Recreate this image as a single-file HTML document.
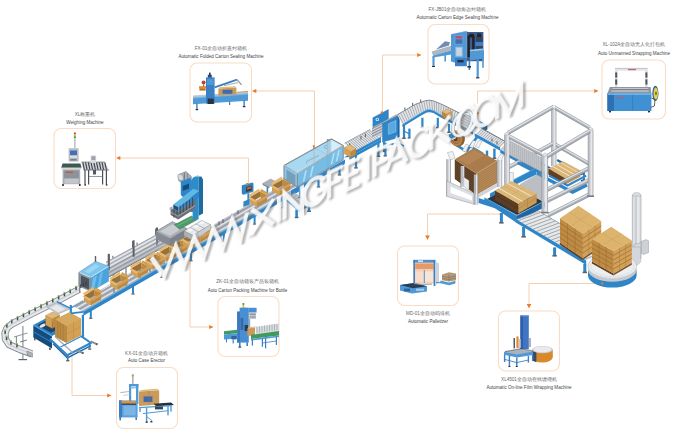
<!DOCTYPE html>
<html><head><meta charset="utf-8"><title>Packing line</title>
<style>
html,body{margin:0;padding:0;background:#fff;}
body{width:680px;height:433px;overflow:hidden;font-family:"Liberation Sans",sans-serif;}
svg{display:block}
svg text{font-family:"Liberation Sans",sans-serif;}
</style></head><body>
<svg width="680" height="433" viewBox="0 0 680 433">
<defs>
<filter id="soft" x="-5%" y="-5%" width="110%" height="110%"><feGaussianBlur stdDeviation="0.45"/></filter>
<filter id="wmsh" x="-10%" y="-10%" width="120%" height="120%"><feGaussianBlur stdDeviation="1.1"/></filter>
<linearGradient id="gl" x1="0" y1="0" x2="1" y2="1"><stop offset="0" stop-color="#9fd3ee"/><stop offset="1" stop-color="#5fb0dc"/></linearGradient>
</defs>
<rect width="680" height="433" fill="#ffffff"/>
<g id="connectors">
<polyline points="120.0,158.0 248.5,158.0 248.5,183.0" fill="none" stroke="#f6ceb0" stroke-width="1.0"/>
<polygon points="116.0,158.0 120.3,155.9 120.3,160.1" fill="#ea7a25"/>
<polyline points="256.0,91.0 314.5,91.0 314.5,146.0" fill="none" stroke="#f6ceb0" stroke-width="1.0"/>
<polygon points="252.0,91.0 256.3,88.9 256.3,93.1" fill="#ea7a25"/>
<polyline points="417.0,55.0 382.5,55.0 382.5,112.0" fill="none" stroke="#f6ceb0" stroke-width="1.0"/>
<polygon points="421.5,55.0 417.2,52.9 417.2,57.1" fill="#ea7a25"/>
<polyline points="594.0,91.0 477.5,91.0 477.5,113.0" fill="none" stroke="#f6ceb0" stroke-width="1.0"/>
<polygon points="598.5,91.0 594.2,88.9 594.2,93.1" fill="#ea7a25"/>
<polyline points="500.0,214.0 427.5,214.0 427.5,236.0" fill="none" stroke="#f6ceb0" stroke-width="1.0"/>
<polygon points="427.5,240.0 425.2,235.5 429.8,235.5" fill="#ea7a25"/>
<polyline points="601.5,283.5 529.0,283.5 529.0,304.0" fill="none" stroke="#f6ceb0" stroke-width="1.0"/>
<polygon points="529.0,308.5 526.7,304.0 531.3,304.0" fill="#ea7a25"/>
<polyline points="190.0,259.0 190.0,327.0 209.0,327.0" fill="none" stroke="#f6ceb0" stroke-width="1.0"/>
<polygon points="213.5,327.0 209.2,324.9 209.2,329.1" fill="#ea7a25"/>
<polyline points="72.0,345.0 72.0,395.5 107.0,395.5" fill="none" stroke="#f6ceb0" stroke-width="1.0"/>
<polygon points="111.5,395.5 107.2,393.4 107.2,397.6" fill="#ea7a25"/>
</g>
<g id="callouts">
<rect x="54.0" y="128.5" width="61.5" height="60.0" rx="7" ry="7" fill="#fff" stroke="#f9dcc6" stroke-width="1.1"/>
<text x="85.0" y="115.5" font-size="4.6" fill="#666" text-anchor="middle">XL称重机</text>
<text x="85.0" y="123.5" font-size="4.55" fill="#444" text-anchor="middle">Weighing Machine</text>
<rect x="190.0" y="63.0" width="61.5" height="59.0" rx="7" ry="7" fill="#fff" stroke="#f9dcc6" stroke-width="1.1"/>
<text x="221.0" y="50.3" font-size="4.6" fill="#666" text-anchor="middle">FX-01全自动折盖封箱机</text>
<text x="221.0" y="58.0" font-size="4.55" fill="#444" text-anchor="middle">Automatic Folded Carton Sealing Machine</text>
<rect x="428.0" y="24.5" width="61.0" height="59.5" rx="7" ry="7" fill="#fff" stroke="#f9dcc6" stroke-width="1.1"/>
<text x="457.5" y="10.5" font-size="4.6" fill="#666" text-anchor="middle">FX-JB01全自动角边封箱机</text>
<text x="457.5" y="18.8" font-size="4.55" fill="#444" text-anchor="middle">Automatic Carton Edge Sealing Machine</text>
<rect x="602.0" y="60.0" width="63.5" height="59.0" rx="7" ry="7" fill="#fff" stroke="#f9dcc6" stroke-width="1.1"/>
<text x="634.0" y="45.6" font-size="4.6" fill="#666" text-anchor="middle">XL-102A全自动无人化打包机</text>
<text x="634.0" y="55.3" font-size="4.55" fill="#444" text-anchor="middle">Auto Unmanned Strapping Machine</text>
<rect x="397.5" y="246.0" width="61.0" height="59.5" rx="7" ry="7" fill="#fff" stroke="#f9dcc6" stroke-width="1.1"/>
<text x="428.0" y="315.0" font-size="4.6" fill="#666" text-anchor="middle">MD-01全自动码垛机</text>
<text x="428.0" y="322.5" font-size="4.55" fill="#444" text-anchor="middle">Automatic Palletizer</text>
<rect x="498.5" y="311.0" width="61.0" height="60.0" rx="7" ry="7" fill="#fff" stroke="#f9dcc6" stroke-width="1.1"/>
<text x="529.0" y="380.6" font-size="4.6" fill="#666" text-anchor="middle">XL4501全自动在线缠绕机</text>
<text x="529.0" y="388.5" font-size="4.55" fill="#444" text-anchor="middle">Automatic On-line Film Wrapping Machine</text>
<rect x="218.0" y="296.5" width="61.0" height="60.0" rx="7" ry="7" fill="#fff" stroke="#f9dcc6" stroke-width="1.1"/>
<text x="247.5" y="283.2" font-size="4.6" fill="#666" text-anchor="middle">ZK-01全自动箱装产品装箱机</text>
<text x="247.5" y="292.2" font-size="4.55" fill="#444" text-anchor="middle">Auto Carton Packing Machine for Bottle</text>
<rect x="116.5" y="367.5" width="61.0" height="61.0" rx="7" ry="7" fill="#fff" stroke="#f9dcc6" stroke-width="1.1"/>
<text x="146.5" y="355.0" font-size="4.6" fill="#666" text-anchor="middle">KX-01全自动开箱机</text>
<text x="146.5" y="362.4" font-size="4.55" fill="#444" text-anchor="middle">Auto Case Erector</text>
</g>
<g id="thumbs" filter="url(#soft)">
<rect x="74.4" y="138.0" width="1.0" height="10.5" fill="#9a9fa6"/>
<rect x="73.9" y="132.6" width="2.0" height="1.8" fill="#d9362b"/>
<rect x="73.9" y="134.4" width="2.0" height="1.8" fill="#e8b52c"/>
<rect x="73.9" y="136.2" width="2.0" height="1.8" fill="#3da54a"/>
<rect x="68.6" y="148.2" width="10.0" height="13.4" fill="#b9bec6"/>
<rect x="70.0" y="150.5" width="7.0" height="4.5" fill="#3f6fb5"/>
<rect x="70.0" y="156.0" width="7.0" height="2.3" fill="#d8dbe0"/>
<rect x="70.3" y="158.8" width="6.3" height="1.8" fill="#7a828c"/>
<polygon points="62.5,163.6 80.4,163.6 81.6,167.8 61.2,167.8" fill="#3d5a4e"/>
<rect x="61.4" y="167.8" width="20.0" height="1.6" fill="#d5d8dc"/>
<rect x="62.6" y="169.4" width="17.6" height="14.8" fill="#a9adb4"/>
<rect x="64.0" y="170.5" width="14.8" height="7.5" fill="#8d929a"/>
<rect x="66.0" y="171.5" width="7.0" height="1.5" fill="#c45a3a"/>
<rect x="64.5" y="179.0" width="14.0" height="4.6" fill="#c3c6cb"/>
<rect x="62.2" y="184.0" width="1.6" height="2.0" fill="#2b2f36"/>
<rect x="79.0" y="184.0" width="1.6" height="2.0" fill="#2b2f36"/>
<polygon points="81.4,162.0 104.8,162.0 108.8,170.0 83.5,170.0" fill="#cfd2d6"/>
<polyline points="82.8,162.4 84.4,169.6" fill="none" stroke="#3a3f47" stroke-width="1.1"/>
<polyline points="85.5,162.4 87.1,169.6" fill="none" stroke="#3a3f47" stroke-width="1.1"/>
<polyline points="88.3,162.4 89.9,169.6" fill="none" stroke="#3a3f47" stroke-width="1.1"/>
<polyline points="91.0,162.4 92.6,169.6" fill="none" stroke="#3a3f47" stroke-width="1.1"/>
<polyline points="93.8,162.4 95.4,169.6" fill="none" stroke="#3a3f47" stroke-width="1.1"/>
<polyline points="96.5,162.4 98.1,169.6" fill="none" stroke="#3a3f47" stroke-width="1.1"/>
<polyline points="99.3,162.4 100.9,169.6" fill="none" stroke="#3a3f47" stroke-width="1.1"/>
<polyline points="102.0,162.4 103.6,169.6" fill="none" stroke="#3a3f47" stroke-width="1.1"/>
<polyline points="104.8,162.4 106.4,169.6" fill="none" stroke="#3a3f47" stroke-width="1.1"/>
<polyline points="81.4,162.0 104.8,162.0" fill="none" stroke="#555a62" stroke-width="0.6"/>
<polyline points="83.5,170.0 108.8,170.0" fill="none" stroke="#555a62" stroke-width="0.8"/>
<rect x="84.4" y="170.0" width="1.2" height="14.5" fill="#4a4f57"/>
<rect x="88.0" y="170.0" width="1.2" height="14.5" fill="#4a4f57"/>
<rect x="102.0" y="170.0" width="1.2" height="14.5" fill="#4a4f57"/>
<rect x="105.8" y="170.0" width="1.2" height="14.5" fill="#4a4f57"/>
<rect x="84.4" y="184.2" width="1.6" height="1.4" fill="#2b2f36"/>
<rect x="105.8" y="184.2" width="1.6" height="1.4" fill="#2b2f36"/>
<polyline points="88.6,176.5 102.6,176.5" fill="none" stroke="#6a6f77" stroke-width="0.7"/>
<rect x="90.6" y="155.4" width="5.6" height="7.6" fill="#d7dade"/>
<rect x="91.5" y="156.3" width="3.8" height="3.7" fill="#9aa0a8"/>
<rect x="93.0" y="170.0" width="3.0" height="4.5" fill="#555a62"/>
<polygon points="193.0,97.2 248.0,93.3 248.0,100.8 193.0,104.2" fill="#4f9ad6"/>
<polygon points="193.0,95.6 248.0,91.8 248.0,93.6 193.0,97.4" fill="#bfc6cf"/>
<polygon points="193.0,97.2 248.0,93.3 248.0,94.6 193.0,98.6" fill="#7db9e6"/>
<rect x="206.0" y="77.4" width="8.6" height="26.2" fill="#3b7fc4"/>
<rect x="207.0" y="79.0" width="6.6" height="6.0" fill="#4f9ad6"/>
<rect x="207.6" y="98.6" width="6.2" height="5.4" fill="#2a3340"/>
<rect x="207.8" y="74.8" width="4.0" height="2.8" fill="#2c4a78"/>
<rect x="209.0" y="72.6" width="1.6" height="2.4" fill="#2b2f36"/>
<polygon points="218.4,88.6 236.4,87.4 236.4,94.4 218.4,95.4" fill="#c99a5a"/>
<polygon points="218.4,88.6 236.4,87.4 235.0,86.2 219.6,87.2" fill="#e0b878"/>
<rect x="222.6" y="89.8" width="9.8" height="4.0" fill="#3f69b0"/>
<polyline points="214.6,87.4 237.0,79.6" fill="none" stroke="#3b7fc4" stroke-width="1.7"/>
<polyline points="237.0,79.6 241.6,84.8" fill="none" stroke="#8e959e" stroke-width="1.2"/>
<polyline points="224.0,85.6 238.0,82.6" fill="none" stroke="#9aa1aa" stroke-width="0.9"/>
<rect x="199.0" y="86.2" width="7.0" height="2.0" fill="#e28a2c"/>
<rect x="199.4" y="88.2" width="6.2" height="2.4" fill="#c96a1e"/>
<circle cx="203.6" cy="82.6" r="2" fill="#c8402c"/>
<rect x="203.0" y="84.4" width="1.2" height="2.0" fill="#6e747c"/>
<rect x="196.2" y="103.6" width="1.4" height="5.4" fill="#3b7fc4"/>
<rect x="195.6" y="109.0" width="2.6" height="1.2" fill="#2b2f36"/>
<rect x="243.4" y="100.6" width="1.4" height="5.4" fill="#3b7fc4"/>
<rect x="242.8" y="106.0" width="2.6" height="1.2" fill="#2b2f36"/>
<rect x="229.0" y="101.6" width="1.2" height="3.4" fill="#3b7fc4"/>
<polyline points="236.8,92.4 248.0,91.4" fill="none" stroke="#d58a3a" stroke-width="0.9"/>
<polygon points="431.6,51.4 451.0,45.8 451.0,50.4 433.0,55.4" fill="#aeb6c0"/>
<polygon points="433.0,55.4 451.0,50.4 451.0,54.4 433.2,57.4" fill="#4f9ad6"/>
<polygon points="436.0,49.6 449.0,45.6 450.0,42.2 445.0,41.2" fill="#6f8db8"/>
<rect x="432.4" y="56.0" width="2.2" height="10.0" fill="#4f9ad6"/>
<rect x="444.4" y="54.6" width="1.6" height="7.0" fill="#4f9ad6"/>
<rect x="432.0" y="66.0" width="3.0" height="1.0" fill="#2b2f36"/>
<polygon points="451.0,34.2 466.6,31.0 466.6,66.0 451.0,61.6" fill="#4f9ad6"/>
<polygon points="451.0,34.2 466.6,31.0 468.6,31.6 453.4,33.4" fill="#7db9e6"/>
<rect x="454.6" y="35.4" width="8.6" height="9.2" fill="#6fa5d8"/>
<rect x="455.4" y="36.2" width="7.0" height="2.2" fill="#c4495a"/>
<rect x="455.4" y="39.2" width="7.0" height="4.6" fill="#3f70b4"/>
<rect x="455.4" y="46.8" width="7.2" height="9.8" fill="#9cc0e2"/>
<rect x="456.4" y="48.0" width="5.2" height="7.6" fill="#c9d6e2"/>
<rect x="455.0" y="58.0" width="11.6" height="8.2" fill="#3b7fc4"/>
<rect x="457.4" y="60.0" width="6.2" height="2.4" fill="#24303f"/>
<rect x="466.6" y="32.0" width="16.8" height="29.2" fill="#3c5d8c"/>
<polygon points="467.6,36.0 470.0,33.8 473.6,33.8 474.6,36.0 474.6,57.0 472.2,57.0 472.2,37.6 469.8,37.6 469.8,57.0 467.6,57.0" fill="#1d2127"/>
<rect x="476.0" y="36.6" width="6.6" height="12.8" fill="#31425e"/>
<rect x="477.0" y="33.4" width="4.4" height="3.6" fill="#22262d"/>
<rect x="475.4" y="42.0" width="7.6" height="4.0" fill="#3b7fc4"/>
<polygon points="470.0,51.6 484.0,50.2 484.0,58.6 470.0,60.6" fill="#4f9ad6"/>
<polygon points="470.0,51.6 484.0,50.2 482.4,48.6 470.0,49.8" fill="#9ec7ea"/>
<rect x="476.6" y="59.6" width="2.2" height="17.8" fill="#4f9ad6"/>
<rect x="482.2" y="55.6" width="1.6" height="12.2" fill="#4f9ad6"/>
<rect x="468.6" y="60.0" width="1.6" height="10.0" fill="#3b7fc4"/>
<rect x="476.0" y="77.2" width="3.4" height="1.2" fill="#2b2f36"/>
<rect x="467.4" y="66.0" width="3.6" height="1.6" fill="#2b2f36"/>
<rect x="615.0" y="69.2" width="2.4" height="18.2" fill="#d9dce0"/>
<rect x="645.2" y="69.2" width="2.4" height="18.2" fill="#d9dce0"/>
<rect x="615.0" y="68.4" width="32.6" height="2.4" fill="#e4e6ea"/>
<rect x="615.2" y="72.4" width="2.0" height="5.2" fill="#50565e"/>
<rect x="615.2" y="79.4" width="2.0" height="5.2" fill="#50565e"/>
<rect x="645.4" y="72.4" width="2.0" height="5.2" fill="#50565e"/>
<rect x="645.4" y="79.4" width="2.0" height="5.2" fill="#50565e"/>
<rect x="628.0" y="69.0" width="8.0" height="1.2" fill="#c56a6a"/>
<polyline points="615.0,68.4 647.6,68.4" fill="none" stroke="#8a9098" stroke-width="0.5"/>
<polygon points="609.8,87.0 650.6,87.0 651.4,93.4 607.4,93.4" fill="#9096a0"/>
<polygon points="612.6,88.2 648.2,88.2 648.8,91.4 611.4,91.4" fill="#d4d7dc"/>
<polyline points="612.0,89.8 648.6,89.8" fill="none" stroke="#3b4048" stroke-width="0.8"/>
<rect x="607.4" y="93.2" width="44.0" height="17.8" fill="#4090d4"/>
<rect x="607.4" y="93.2" width="6.6" height="17.8" fill="#2f6fb2"/>
<rect x="607.4" y="93.2" width="44.0" height="1.8" fill="#6fb0e4"/>
<polyline points="632.6,95.0 632.6,111.0" fill="none" stroke="#2f6fb2" stroke-width="0.5"/>
<rect x="617.0" y="97.2" width="6.4" height="1.2" fill="#cf5a5a"/>
<rect x="609.0" y="111.0" width="2.0" height="1.4" fill="#2b2f36"/>
<rect x="648.0" y="111.0" width="2.0" height="1.4" fill="#2b2f36"/>
<ellipse cx="655.4" cy="93.4" rx="3.1" ry="7.6" fill="#2e68ac"/><ellipse cx="655.8" cy="93.4" rx="2.2" ry="6" fill="#e9d23a"/><ellipse cx="656" cy="93.4" rx="0.8" ry="1.8" fill="#54595f"/>
<polyline points="651.4,98.0 655.0,99.4 654.4,106.0 650.8,107.4" fill="none" stroke="#3a3f47" stroke-width="0.8"/>
<rect x="413.4" y="260.0" width="21.8" height="23.6" fill="#f3cdb4"/>
<rect x="415.2" y="263.6" width="18.4" height="5.4" fill="#e79a68"/>
<rect x="415.4" y="271.4" width="8.6" height="10.6" fill="#f6dccb"/>
<rect x="425.0" y="271.4" width="8.6" height="10.6" fill="#f8e4d6"/>
<rect x="413.4" y="259.8" width="21.8" height="2.8" fill="#4d8fd0"/>
<rect x="418.0" y="260.4" width="5.0" height="1.6" fill="#d8e4f0"/>
<rect x="413.4" y="260.0" width="1.6" height="24.6" fill="#3b7fc4"/>
<rect x="433.6" y="260.0" width="1.8" height="26.0" fill="#3b7fc4"/>
<rect x="423.8" y="270.0" width="1.0" height="13.0" fill="#4f9ad6"/>
<polygon points="435.4,261.4 439.0,263.4 439.0,283.0 435.4,285.0" fill="#cfd4da"/>
<polygon points="400.0,285.0 414.0,283.0 427.0,286.2 427.0,291.4 412.0,293.4 400.0,290.6" fill="#4f9ad6"/>
<polygon points="400.0,285.0 414.0,283.0 427.0,286.2 413.0,288.2" fill="#2c3c55"/>
<rect x="404.0" y="288.6" width="6.0" height="2.8" fill="#2f64a6"/>
<rect x="416.0" y="288.6" width="8.0" height="2.2" fill="#a9c9e8"/>
<polyline points="414.0,283.6 423.0,284.4 432.0,284.2" fill="none" stroke="#9a9fa6" stroke-width="1"/>
<polygon points="442.0,274.4 449.0,272.2 456.0,273.6 456.0,280.2 449.0,281.6 442.0,280.2" fill="#b39a78"/>
<polyline points="442.0,276.4 449.0,277.6 456.0,275.8" fill="none" stroke="#7d6a50" stroke-width="0.5"/>
<polyline points="442.0,278.4 449.0,279.6 456.0,278.0" fill="none" stroke="#7d6a50" stroke-width="0.5"/>
<polyline points="449.0,274.6 449.0,281.4" fill="none" stroke="#7d6a50" stroke-width="0.5"/>
<polygon points="440.4,280.6 449.0,282.6 455.4,280.8 455.4,283.4 449.0,285.2 440.4,283.2" fill="#4f9ad6"/>
<polyline points="436.0,282.6 441.0,282.6" fill="none" stroke="#3b7fc4" stroke-width="0.9"/>
<rect x="520.4" y="315.6" width="8.4" height="33.4" fill="#3f74c4"/>
<rect x="520.4" y="315.6" width="2.6" height="33.4" fill="#2f5fa8"/>
<rect x="520.4" y="315.2" width="8.4" height="1.2" fill="#6a9add"/>
<rect x="513.6" y="338.0" width="1.2" height="10.4" fill="#2b2f36"/>
<rect x="516.4" y="336.4" width="2.2" height="11.6" fill="#e28a2c"/>
<rect x="519.0" y="339.0" width="1.6" height="9.0" fill="#c8cdd3"/>
<rect x="529.2" y="338.0" width="1.6" height="9.0" fill="#9aa1aa"/>
<ellipse cx="542.4" cy="357" rx="10.4" ry="5.6" fill="#d88a2a"/>
<rect x="532.0" y="349.6" width="20.8" height="7.4" fill="#d88a2a"/>
<ellipse cx="542.4" cy="349.6" rx="10.4" ry="3.7" fill="#c9cdd2"/><ellipse cx="542.4" cy="349.4" rx="9" ry="2.9" fill="#e8eaed"/>
<polygon points="532.0,351.0 536.4,352.6 536.4,362.2 532.0,360.4" fill="#3b4a66"/>
<polygon points="504.0,352.0 521.0,349.0 533.0,351.4 533.0,355.0 517.0,357.6 504.0,354.8" fill="#4f9ad6"/>
<polygon points="504.0,352.0 521.0,349.0 533.0,351.4 517.0,354.4" fill="#aab2bc"/>
<polyline points="505.0,351.6 521.0,348.6 532.6,350.8" fill="none" stroke="#3e444c" stroke-width="0.6"/>
<rect x="503.9" y="354.6" width="1.4" height="7.4" fill="#3b7fc4"/>
<rect x="508.7" y="355.6" width="1.4" height="10.4" fill="#3b7fc4"/>
<rect x="516.1" y="357.6" width="1.4" height="8.4" fill="#3b7fc4"/>
<rect x="527.7" y="356.0" width="1.4" height="6.6" fill="#3b7fc4"/>
<rect x="531.9" y="355.0" width="1.4" height="5.6" fill="#3b7fc4"/>
<polyline points="504.6,359.4 516.8,362.6 528.4,360.0" fill="none" stroke="#3b7fc4" stroke-width="0.9"/>
<rect x="508.4" y="366.0" width="2.0" height="1.0" fill="#2b2f36"/>
<rect x="515.8" y="366.0" width="2.0" height="1.0" fill="#2b2f36"/>
<rect x="242.6" y="303.0" width="1.6" height="21.0" fill="#c9c83a"/>
<rect x="242.6" y="303.0" width="1.6" height="2.0" fill="#7a9a3a"/>
<rect x="237.2" y="311.6" width="11.6" height="31.0" fill="#4a8ed2"/>
<rect x="237.2" y="311.6" width="2.8" height="31.0" fill="#3b78bd"/>
<rect x="239.6" y="307.6" width="9.2" height="4.4" fill="#4a8ed2"/>
<rect x="248.8" y="307.8" width="7.8" height="4.8" fill="#4a8ed2"/>
<rect x="249.2" y="312.6" width="6.8" height="6.4" fill="#c3c9d0"/>
<rect x="249.6" y="313.6" width="6.0" height="1.4" fill="#8d949c"/>
<rect x="249.6" y="316.4" width="6.0" height="1.2" fill="#8d949c"/>
<rect x="248.8" y="319.0" width="1.4" height="9.0" fill="#9da4ac"/>
<rect x="240.6" y="318.0" width="2.6" height="12.0" fill="#3568a8"/>
<rect x="244.6" y="325.0" width="3.4" height="6.0" fill="#2e3a4c"/>
<polygon points="247.4,328.4 255.0,327.6 255.0,335.2 247.4,336.0" fill="#c99a5a"/>
<polygon points="247.4,328.4 249.4,327.0 256.6,326.4 255.0,327.6" fill="#e0b878"/>
<polygon points="224.0,331.2 237.2,329.8 237.2,333.2 224.0,334.6" fill="#3f9a5c"/>
<polygon points="224.0,334.6 237.2,333.2 237.2,338.6 224.0,339.6" fill="#4f9ad6"/>
<rect x="231.4" y="336.0" width="5.2" height="3.4" fill="#2f64a6"/>
<rect x="232.6" y="339.4" width="1.2" height="4.0" fill="#3b7fc4"/>
<rect x="226.0" y="339.0" width="1.0" height="3.4" fill="#3b7fc4"/>
<polygon points="255.8,327.0 279.0,323.6 279.0,331.4 255.8,334.6" fill="#d9dde1"/>
<polyline points="257.0,326.6 257.0,333.0" fill="none" stroke="#9ba2aa" stroke-width="0.7"/>
<polyline points="259.5,326.2 259.5,332.6" fill="none" stroke="#9ba2aa" stroke-width="0.7"/>
<polyline points="262.0,325.9 262.0,332.3" fill="none" stroke="#9ba2aa" stroke-width="0.7"/>
<polyline points="264.5,325.5 264.5,331.9" fill="none" stroke="#9ba2aa" stroke-width="0.7"/>
<polyline points="267.0,325.2 267.0,331.6" fill="none" stroke="#9ba2aa" stroke-width="0.7"/>
<polyline points="269.5,324.8 269.5,331.2" fill="none" stroke="#9ba2aa" stroke-width="0.7"/>
<polyline points="272.0,324.4 272.0,330.8" fill="none" stroke="#9ba2aa" stroke-width="0.7"/>
<polyline points="274.5,324.1 274.5,330.5" fill="none" stroke="#9ba2aa" stroke-width="0.7"/>
<polyline points="277.0,323.7 277.0,330.1" fill="none" stroke="#9ba2aa" stroke-width="0.7"/>
<polygon points="251.0,334.8 279.0,331.0 279.0,335.4 251.0,339.0" fill="#3f9a5c"/>
<polygon points="251.0,339.0 279.0,335.4 279.0,337.0 251.0,340.6" fill="#4f9ad6"/>
<rect x="251.8" y="340.0" width="1.2" height="5.6" fill="#3b7fc4"/>
<rect x="261.8" y="338.6" width="1.2" height="8.2" fill="#3b7fc4"/>
<rect x="265.0" y="338.0" width="1.2" height="10.4" fill="#3b7fc4"/>
<rect x="275.8" y="336.6" width="1.2" height="8.4" fill="#3b7fc4"/>
<polyline points="262.4,343.0 276.4,341.0" fill="none" stroke="#3b7fc4" stroke-width="0.8"/>
<rect x="239.0" y="342.4" width="1.6" height="4.6" fill="#3b7fc4"/>
<rect x="246.4" y="342.4" width="1.6" height="3.6" fill="#3b7fc4"/>
<rect x="238.4" y="346.6" width="2.8" height="1.0" fill="#2b2f36"/>
<rect x="132.0" y="374.8" width="1.6" height="10.2" fill="#aeb4bb"/>
<rect x="131.8" y="374.4" width="2.0" height="2.0" fill="#8fae5a"/>
<rect x="129.0" y="384.0" width="2.2" height="17.4" fill="#4f9ad6"/>
<rect x="136.0" y="384.0" width="2.4" height="20.0" fill="#4f9ad6"/>
<rect x="129.0" y="384.0" width="9.4" height="2.4" fill="#4f9ad6"/>
<rect x="130.6" y="387.2" width="5.8" height="1.2" fill="#7fb4e4"/>
<polyline points="120.4,392.6 130.0,391.4" fill="none" stroke="#9aa1aa" stroke-width="0.8"/>
<polyline points="123.4,395.4 130.0,394.6" fill="none" stroke="#b9bfc6" stroke-width="0.7"/>
<rect x="119.0" y="400.4" width="18.6" height="17.0" fill="#5a9fdc"/>
<rect x="119.0" y="400.4" width="3.0" height="17.0" fill="#3b7fc4"/>
<rect x="121.4" y="401.0" width="14.0" height="2.6" fill="#e8902e"/>
<rect x="123.6" y="405.6" width="12.0" height="9.8" fill="#7ab5e6"/>
<rect x="121.6" y="403.6" width="14.4" height="1.2" fill="#2d3a4e"/>
<rect x="119.4" y="417.2" width="1.6" height="3.2" fill="#3b7fc4"/>
<rect x="135.4" y="417.2" width="1.6" height="2.8" fill="#3b7fc4"/>
<polygon points="139.0,391.6 159.2,390.2 159.2,404.6 139.0,406.0" fill="#c99a5a"/>
<polygon points="139.0,391.6 159.2,390.2 157.0,388.8 141.0,390.0" fill="#e0b878"/>
<rect x="143.6" y="396.4" width="8.8" height="5.6" fill="#3f69b0"/>
<polyline points="149.0,391.0 149.0,405.4" fill="none" stroke="#a97a3e" stroke-width="0.5"/>
<polygon points="153.6,403.8 171.0,402.6 174.0,405.0 156.4,406.6" fill="#2a2f37"/>
<polyline points="139.0,407.6 171.6,405.6" fill="none" stroke="#4f9ad6" stroke-width="1.4"/>
<polyline points="143.0,413.6 168.6,410.6" fill="none" stroke="#4f9ad6" stroke-width="1"/>
<rect x="139.3" y="407.0" width="1.4" height="5.0" fill="#4f9ad6"/>
<rect x="145.9" y="407.4" width="1.4" height="14.2" fill="#4f9ad6"/>
<rect x="167.3" y="406.0" width="1.4" height="9.4" fill="#4f9ad6"/>
<rect x="170.3" y="405.6" width="1.4" height="6.0" fill="#4f9ad6"/>
<rect x="145.6" y="421.4" width="2.2" height="1.4" fill="#2b2f36"/>
<rect x="150.4" y="421.0" width="2.0" height="1.4" fill="#2b2f36"/>
<polyline points="146.6,416.4 152.0,420.6" fill="none" stroke="#4f9ad6" stroke-width="0.9"/>
<rect x="155.0" y="406.6" width="8.0" height="2.8" fill="#394456"/>
</g>
<g id="line" filter="url(#soft)">
<polyline points="22.9,326.0 22.9,359.5" fill="none" stroke="#868b93" stroke-width="1.1"/>
<polyline points="16.4,336.0 16.4,352.0" fill="none" stroke="#868b93" stroke-width="1.1"/>
<polyline points="14.0,337.0 27.5,333.0" fill="none" stroke="#868b93" stroke-width="0.9"/>
<polyline points="18.5,359.6 27.0,359.6" fill="none" stroke="#5d626a" stroke-width="1.2"/>
<polyline points="20.0,342.0 27.0,340.0" fill="none" stroke="#5d626a" stroke-width="0.8"/>
<polyline points="31.8,353.8 20.0,349.5 9.0,344.6 5.4,339.0 5.0,333.0 7.0,328.0 12.0,324.0 30.0,314.6 56.0,301.6 79.0,289.4" fill="none" stroke="#868b93" stroke-width="7.2" stroke-linejoin="round" stroke-linecap="butt"/>
<polyline points="31.8,353.8 20.0,349.5 9.0,344.6 5.4,339.0 5.0,333.0 7.0,328.0 12.0,324.0 30.0,314.6 56.0,301.6 79.0,289.4" fill="none" stroke="#e6e8eb" stroke-width="5.4" stroke-linejoin="round"/>
<polyline points="31.8,353.8 20.0,349.5 9.0,344.6 5.4,339.0 5.0,333.0 7.0,328.0 12.0,324.0 30.0,314.6 56.0,301.6 79.0,289.4" fill="none" stroke="#c9ccd1" stroke-width="1.2" stroke-linejoin="round"/>
<polygon points="27.0,351.0 32.5,353.2 32.5,357.2 27.0,355.0" fill="#acb0b7" stroke="#5d626a" stroke-width="0.4" stroke-linejoin="round"/>
<rect x="16.2" y="343.8" width="1.5" height="3.6" fill="#454b53"/>
<rect x="16.1" y="343.0" width="1.7" height="1.5" fill="#86c552"/>
<rect x="10.2" y="341.1" width="1.5" height="3.6" fill="#454b53"/>
<rect x="10.1" y="340.3" width="1.7" height="1.5" fill="#86c552"/>
<rect x="5.9" y="336.5" width="1.5" height="3.6" fill="#454b53"/>
<rect x="5.8" y="335.7" width="1.7" height="1.5" fill="#86c552"/>
<rect x="4.4" y="330.3" width="1.5" height="3.6" fill="#454b53"/>
<rect x="4.3" y="329.5" width="1.7" height="1.5" fill="#86c552"/>
<rect x="6.1" y="324.0" width="1.5" height="3.6" fill="#454b53"/>
<rect x="6.0" y="323.2" width="1.7" height="1.5" fill="#86c552"/>
<rect x="11.0" y="319.8" width="1.5" height="3.6" fill="#454b53"/>
<rect x="10.9" y="319.0" width="1.7" height="1.5" fill="#86c552"/>
<rect x="16.8" y="316.7" width="1.5" height="3.6" fill="#454b53"/>
<rect x="16.7" y="315.9" width="1.7" height="1.5" fill="#86c552"/>
<rect x="22.7" y="313.6" width="1.5" height="3.6" fill="#454b53"/>
<rect x="22.6" y="312.8" width="1.7" height="1.5" fill="#86c552"/>
<rect x="28.5" y="310.6" width="1.5" height="3.6" fill="#454b53"/>
<rect x="28.4" y="309.8" width="1.7" height="1.5" fill="#86c552"/>
<rect x="34.4" y="307.6" width="1.5" height="3.6" fill="#454b53"/>
<rect x="34.3" y="306.8" width="1.7" height="1.5" fill="#86c552"/>
<rect x="40.3" y="304.7" width="1.5" height="3.6" fill="#454b53"/>
<rect x="40.2" y="303.9" width="1.7" height="1.5" fill="#86c552"/>
<rect x="46.2" y="301.7" width="1.5" height="3.6" fill="#454b53"/>
<rect x="46.1" y="300.9" width="1.7" height="1.5" fill="#86c552"/>
<rect x="52.0" y="298.8" width="1.5" height="3.6" fill="#454b53"/>
<rect x="51.9" y="298.0" width="1.7" height="1.5" fill="#86c552"/>
<rect x="57.9" y="295.8" width="1.5" height="3.6" fill="#454b53"/>
<rect x="57.8" y="295.0" width="1.7" height="1.5" fill="#86c552"/>
<rect x="63.7" y="292.7" width="1.5" height="3.6" fill="#454b53"/>
<rect x="63.6" y="291.9" width="1.7" height="1.5" fill="#86c552"/>
<rect x="69.5" y="289.6" width="1.5" height="3.6" fill="#454b53"/>
<rect x="69.4" y="288.8" width="1.7" height="1.5" fill="#86c552"/>
<rect x="75.3" y="286.5" width="1.5" height="3.6" fill="#454b53"/>
<rect x="75.2" y="285.7" width="1.7" height="1.5" fill="#86c552"/>
<polygon points="33.3,325.0 46.0,318.2 66.0,329.0 52.0,336.0" fill="#2f86c8"/>
<polygon points="37.4,325.2 46.0,320.6 60.0,328.2 51.0,332.8" fill="#1f4468"/>
<polygon points="33.3,325.0 52.0,336.0 52.0,348.6 33.3,337.6" fill="#184c7e"/>
<polyline points="33.3,325.2 52.0,336.2" fill="none" stroke="#58aee6" stroke-width="0.9"/>
<polyline points="33.3,331.6 52.0,342.6" fill="none" stroke="#2f86c8" stroke-width="1.0"/>
<ellipse cx="42.6" cy="325.6" rx="3.2" ry="1.6" fill="#e4e7ea" transform="rotate(-25 42.6 325.6)"/>
<rect x="34.0" y="338.0" width="1.6" height="2.4" fill="#5d626a"/>
<rect x="49.0" y="347.6" width="1.8" height="2.4" fill="#5d626a"/>
<polygon points="46.6,307.1 56.9,302.4 69.5,309.2 58.4,313.9" fill="#c9ccd1" stroke="#868b93" stroke-width="0.4" stroke-linejoin="round"/>
<polygon points="50.0,307.6 57.0,304.4 65.5,309.0 58.4,312.2" fill="#e6e8eb"/>
<polyline points="56.9,301.6 70.5,308.4" fill="none" stroke="#2f86c8" stroke-width="1.6"/>
<polyline points="70.8,305.0 70.8,313.0" fill="none" stroke="#2f86c8" stroke-width="2.2"/>
<polyline points="70.8,308.0 83.0,301.4" fill="none" stroke="#2f86c8" stroke-width="1.4"/>
<polygon points="45.6,325.1 52.2,328.4 52.2,318.8 45.6,315.5" fill="#d3a157" stroke="#9c6f33" stroke-width="0.3" stroke-linejoin="round"/>
<polygon points="52.2,328.4 59.6,324.7 59.6,315.1 52.2,318.8" fill="#bd8a42" stroke="#9c6f33" stroke-width="0.3" stroke-linejoin="round"/>
<polygon points="45.6,315.5 52.2,318.8 59.6,315.1 53.0,311.8" fill="#e3ba74" stroke="#9c6f33" stroke-width="0.3" stroke-linejoin="round"/>
<polygon points="50.0,338.5 67.0,354.7 90.7,342.9 81.0,336.2" fill="#ffffff"/>
<polyline points="50.0,339.0 67.4,355.2 91.0,343.0 81.5,336.4" fill="none" stroke="#2f86c8" stroke-width="2.0" stroke-linejoin="round"/>
<polyline points="55.0,336.5 72.5,352.5" fill="none" stroke="#acb0b7" stroke-width="1.6"/>
<polyline points="60.5,347.0 84.0,335.0" fill="none" stroke="#2f86c8" stroke-width="1.3"/>
<polyline points="53.0,343.8 67.4,357.8 91.0,345.6" fill="none" stroke="#1f66a6" stroke-width="1.4"/>
<rect x="66.9" y="355.0" width="1.7" height="5.2" fill="#2f86c8"/>
<rect x="66.2" y="360.0" width="3.2" height="1.4" fill="#5d626a"/>
<rect x="88.8" y="343.4" width="1.6" height="5.2" fill="#2f86c8"/>
<rect x="88.2" y="348.4" width="3.0" height="1.4" fill="#5d626a"/>
<polyline points="76.6,350.3 83.3,353.2" fill="none" stroke="#868b93" stroke-width="1.8"/>
<polyline points="82.0,352.7 83.6,353.4" fill="none" stroke="#5d626a" stroke-width="2"/>
<polyline points="90.7,341.4 97.3,344.4" fill="none" stroke="#868b93" stroke-width="1.8"/>
<polyline points="96.0,343.8 97.6,344.5" fill="none" stroke="#5d626a" stroke-width="2"/>
<rect x="81.8" y="314.8" width="2.2" height="22.6" fill="#2f86c8"/>
<polygon points="55.2,336.4 66.4,342.8 66.4,326.0 55.2,319.6" fill="#bd8a42"/>
<polygon points="66.4,342.8 81.0,335.5 81.0,318.7 66.4,326.0" fill="#d3a157"/>
<polygon points="55.2,319.6 66.4,326.0 81.0,318.7 69.8,312.3" fill="#d3a157"/>
<polygon points="55.2,319.6 68.6,312.6 81.0,318.4 66.4,326.0" fill="#d6a961"/>
<polygon points="55.2,319.6 66.4,326.0 66.4,342.8 55.2,336.4" fill="#bd8a42"/>
<polygon points="66.4,326.0 81.0,318.4 81.0,335.4 66.4,342.8" fill="#d3a157"/>
<polyline points="57.8,321.1 57.8,337.9" fill="none" stroke="#9c6f33" stroke-width="0.5"/>
<polyline points="60.4,322.6 60.4,339.4" fill="none" stroke="#9c6f33" stroke-width="0.5"/>
<polyline points="63.2,324.2 63.2,341.0" fill="none" stroke="#9c6f33" stroke-width="0.5"/>
<polyline points="73.6,322.2 73.6,339.2" fill="none" stroke="#bd8a42" stroke-width="0.6"/>
<polyline points="66.4,334.0 81.0,326.6" fill="none" stroke="#bd8a42" stroke-width="0.5"/>
<polyline points="66.4,326.0 66.4,342.8" fill="none" stroke="#9c6f33" stroke-width="0.5"/>
<rect x="89.8" y="309.5" width="2.0" height="8.5" fill="#2f86c8"/>
<rect x="89.2" y="317.7" width="3.2" height="1.2" fill="#5d626a"/>
<rect x="132.0" y="285.2" width="2.0" height="8.5" fill="#2f86c8"/>
<rect x="131.4" y="293.4" width="3.2" height="1.2" fill="#5d626a"/>
<rect x="161.0" y="268.5" width="2.0" height="8.5" fill="#2f86c8"/>
<rect x="160.4" y="276.7" width="3.2" height="1.2" fill="#5d626a"/>
<rect x="190.0" y="251.9" width="2.0" height="8.5" fill="#2f86c8"/>
<rect x="189.4" y="260.1" width="3.2" height="1.2" fill="#5d626a"/>
<rect x="223.0" y="232.9" width="2.0" height="8.5" fill="#2f86c8"/>
<rect x="222.4" y="241.1" width="3.2" height="1.2" fill="#5d626a"/>
<rect x="253.6" y="215.3" width="2.0" height="8.5" fill="#2f86c8"/>
<rect x="253.0" y="223.5" width="3.2" height="1.2" fill="#5d626a"/>
<rect x="282.0" y="199.0" width="2.0" height="8.5" fill="#2f86c8"/>
<rect x="281.4" y="207.2" width="3.2" height="1.2" fill="#5d626a"/>
<polygon points="83.3,311.8 300.0,187.2 289.0,180.9 74.3,306.6" fill="#acb0b7"/>
<polyline points="81.1,310.6 297.8,186.0" fill="none" stroke="#e6e8eb" stroke-width="1.2"/>
<polyline points="78.9,309.3 295.6,184.7" fill="none" stroke="#868b93" stroke-width="0.6"/>
<polyline points="76.7,308.1 293.4,183.5" fill="none" stroke="#e6e8eb" stroke-width="1.4"/>
<polyline points="74.5,306.9 291.2,182.3" fill="none" stroke="#868b93" stroke-width="0.6"/>
<polyline points="72.9,306.0 289.6,181.4" fill="none" stroke="#c9ccd1" stroke-width="1.0"/>
<polygon points="83.3,315.7 300.0,191.1 300.0,187.0 83.3,311.6" fill="#2f86c8"/>
<polyline points="83.3,311.6 300.0,187.0" fill="none" stroke="#58aee6" stroke-width="0.6"/>
<polyline points="71.0,313.4 83.3,311.8" fill="none" stroke="#2f86c8" stroke-width="1.8"/>
<rect x="107.9" y="254.3" width="1.8" height="20.0" fill="#5d626a"/>
<rect x="112.2" y="255.8" width="1.4" height="20.5" fill="#868b93"/>
<rect x="132.1" y="241.1" width="1.8" height="20.0" fill="#5d626a"/>
<rect x="136.4" y="242.6" width="1.4" height="20.5" fill="#868b93"/>
<rect x="155.1" y="228.6" width="1.8" height="20.0" fill="#5d626a"/>
<rect x="159.4" y="230.1" width="1.4" height="20.5" fill="#868b93"/>
<polygon points="106.0,261.8 171.0,226.4 171.0,243.4 106.0,278.8" fill="#c9ccd1"/>
<polygon points="106.0,270.8 171.0,235.4 171.0,243.4 106.0,278.8" fill="#acb0b7"/>
<polyline points="106.0,262.4 171.0,227.0" fill="none" stroke="#868b93" stroke-width="0.7"/>
<polyline points="106.0,264.2 171.0,228.8" fill="none" stroke="#e6e8eb" stroke-width="1.3"/>
<polyline points="106.0,266.2 171.0,230.8" fill="none" stroke="#868b93" stroke-width="0.6"/>
<polyline points="106.0,268.0 171.0,232.6" fill="none" stroke="#e6e8eb" stroke-width="1.2"/>
<polyline points="106.0,270.0 171.0,234.6" fill="none" stroke="#5d626a" stroke-width="0.6"/>
<polyline points="106.0,272.2 171.0,236.8" fill="none" stroke="#e6e8eb" stroke-width="0.8"/>
<polyline points="106.0,274.2 171.0,238.8" fill="none" stroke="#868b93" stroke-width="0.6"/>
<polyline points="106.0,276.2 171.0,240.8" fill="none" stroke="#c9ccd1" stroke-width="0.8"/>
<polyline points="106.0,278.4 171.0,243.0" fill="none" stroke="#5d626a" stroke-width="0.7"/>
<rect x="113.3" y="274.0" width="1.4" height="19.0" fill="#868b93"/>
<rect x="125.3" y="267.4" width="1.4" height="18.7" fill="#868b93"/>
<rect x="139.3" y="259.8" width="1.4" height="18.2" fill="#868b93"/>
<rect x="149.3" y="254.3" width="1.4" height="17.9" fill="#868b93"/>
<rect x="163.3" y="246.7" width="1.4" height="17.5" fill="#868b93"/>
<rect x="107.8" y="253.8" width="2.0" height="16.5" fill="#5d626a"/>
<rect x="132.6" y="240.3" width="2.0" height="16.5" fill="#5d626a"/>
<rect x="156.0" y="227.5" width="2.0" height="16.5" fill="#5d626a"/>
<polygon points="156.4,238.6 168.6,231.6 168.6,224.6 156.4,231.2" fill="#acb0b7" stroke="#5d626a" stroke-width="0.4" stroke-linejoin="round"/>
<polygon points="158.0,237.0 167.0,231.8 167.0,227.0 158.0,232.0" fill="#e6e8eb"/>
<rect x="163.4" y="228.4" width="2" height="2.2" fill="#5aa84a"/>
<rect x="156.2" y="231.0" width="1.4" height="15.0" fill="#868b93"/>
<rect x="167.6" y="224.6" width="1.4" height="15.4" fill="#868b93"/>
<polygon points="79.0,272.2 90.5,277.4 90.5,291.6 79.0,286.6" fill="#8a9097"/>
<polygon points="81.0,275.4 89.0,279.0 89.0,289.4 81.0,285.8" fill="#4d535b"/>
<rect x="80.0" y="284.6" width="1.4" height="3.4" fill="#3c4149"/>
<rect x="82.6" y="283.3" width="1.4" height="3.4" fill="#3c4149"/>
<rect x="85.2" y="282.0" width="1.4" height="3.4" fill="#3c4149"/>
<polygon points="90.5,277.4 108.8,266.3 108.8,281.2 90.5,292.0" fill="#49a3dd"/>
<polygon points="93.0,277.6 97.0,275.2 94.0,289.6 90.8,291.4" fill="#7cc3ec" opacity="0.8"/>
<polygon points="100.0,273.4 103.0,271.6 100.4,286.0 97.6,287.6" fill="#7cc3ec" opacity="0.7"/>
<polygon points="79.0,272.2 95.5,261.3 108.8,266.3 90.5,277.4" fill="#7fc6ee"/>
<polygon points="84.0,271.4 95.0,264.2 100.0,266.0 89.0,273.4" fill="#a5d8f4" opacity="0.8"/>
<polyline points="79.0,272.2 90.5,277.4 108.8,266.3" fill="none" stroke="#d6eefa" stroke-width="0.7"/>
<polyline points="79.0,272.2 79.0,287.0" fill="none" stroke="#868b93" stroke-width="1.2"/>
<polyline points="90.5,277.4 90.5,292.0" fill="none" stroke="#868b93" stroke-width="1.0"/>
<polyline points="79.0,272.2 95.5,261.3 108.8,266.3" fill="none" stroke="#5a98c4" stroke-width="0.5"/>
<rect x="79.0" y="286.0" width="1.4" height="7.0" fill="#868b93"/>
<rect x="94.8" y="256.0" width="1.4" height="6.0" fill="#5d626a"/>
<polygon points="84.2,295.4 94.2,289.6 94.2,295.6 84.2,301.4" fill="#9c6f33"/>
<polygon points="94.2,289.6 101.0,293.4 101.0,299.4 94.2,295.6" fill="#bd8a42"/>
<polygon points="84.2,295.4 94.2,289.6 93.0,287.0 83.0,293.2" fill="#e3ba74"/>
<polygon points="94.2,289.6 101.0,293.4 102.4,291.2 95.6,287.2" fill="#d3a157"/>
<polygon points="84.2,301.4 91.0,305.2 91.0,299.2 84.2,295.4" fill="#d3a157"/>
<polygon points="91.0,305.2 101.0,299.4 101.0,293.4 91.0,299.2" fill="#bd8a42"/>
<polygon points="84.2,295.4 91.0,299.2 89.4,300.8 82.6,296.6" fill="#e3ba74"/>
<polygon points="91.0,299.2 101.0,293.4 102.2,295.2 92.2,301.2" fill="#d3a157"/>
<polygon points="110.7,280.1 120.7,274.4 120.7,280.4 110.7,286.1" fill="#9c6f33"/>
<polygon points="120.7,274.4 127.5,278.2 127.5,284.2 120.7,280.4" fill="#bd8a42"/>
<polygon points="110.7,280.1 120.7,274.4 119.5,271.8 109.5,277.9" fill="#e3ba74"/>
<polygon points="120.7,274.4 127.5,278.2 128.9,276.0 122.1,272.0" fill="#d3a157"/>
<polygon points="110.7,286.1 117.5,289.9 117.5,283.9 110.7,280.1" fill="#d3a157"/>
<polygon points="117.5,289.9 127.5,284.2 127.5,278.2 117.5,283.9" fill="#bd8a42"/>
<polygon points="110.7,280.1 117.5,283.9 115.9,285.5 109.1,281.3" fill="#e3ba74"/>
<polygon points="117.5,283.9 127.5,278.2 128.7,280.0 118.7,285.9" fill="#d3a157"/>
<polygon points="131.2,268.3 141.2,262.6 141.2,268.6 131.2,274.3" fill="#9c6f33"/>
<polygon points="141.2,262.6 148.0,266.4 148.0,272.4 141.2,268.6" fill="#bd8a42"/>
<polygon points="131.2,268.3 141.2,262.6 140.0,260.0 130.0,266.1" fill="#e3ba74"/>
<polygon points="141.2,262.6 148.0,266.4 149.4,264.2 142.6,260.2" fill="#d3a157"/>
<polygon points="131.2,274.3 138.0,278.1 138.0,272.1 131.2,268.3" fill="#d3a157"/>
<polygon points="138.0,278.1 148.0,272.4 148.0,266.4 138.0,272.1" fill="#bd8a42"/>
<polygon points="131.2,268.3 138.0,272.1 136.4,273.7 129.6,269.5" fill="#e3ba74"/>
<polygon points="138.0,272.1 148.0,266.4 149.2,268.2 139.2,274.1" fill="#d3a157"/>
<polygon points="145.9,259.9 155.9,254.1 155.9,260.1 145.9,265.9" fill="#9c6f33"/>
<polygon points="155.9,254.1 162.7,257.9 162.7,263.9 155.9,260.1" fill="#bd8a42"/>
<polygon points="145.9,259.9 155.9,254.1 154.7,251.5 144.7,257.7" fill="#e3ba74"/>
<polygon points="155.9,254.1 162.7,257.9 164.1,255.7 157.3,251.7" fill="#d3a157"/>
<polygon points="145.9,265.9 152.7,269.7 152.7,263.7 145.9,259.9" fill="#d3a157"/>
<polygon points="152.7,269.7 162.7,263.9 162.7,257.9 152.7,263.7" fill="#bd8a42"/>
<polygon points="145.9,259.9 152.7,263.7 151.1,265.3 144.3,261.1" fill="#e3ba74"/>
<polygon points="152.7,263.7 162.7,257.9 163.9,259.7 153.9,265.7" fill="#d3a157"/>
<polygon points="159.7,252.0 169.7,246.2 169.7,252.2 159.7,258.0" fill="#9c6f33"/>
<polygon points="169.7,246.2 176.5,250.0 176.5,256.0 169.7,252.2" fill="#bd8a42"/>
<polygon points="159.7,252.0 169.7,246.2 168.5,243.6 158.5,249.8" fill="#e3ba74"/>
<polygon points="169.7,246.2 176.5,250.0 177.9,247.8 171.1,243.8" fill="#d3a157"/>
<polygon points="159.7,258.0 166.5,261.8 166.5,255.8 159.7,252.0" fill="#d3a157"/>
<polygon points="166.5,261.8 176.5,256.0 176.5,250.0 166.5,255.8" fill="#bd8a42"/>
<polygon points="159.7,252.0 166.5,255.8 164.9,257.4 158.1,253.2" fill="#e3ba74"/>
<polygon points="166.5,255.8 176.5,250.0 177.7,251.8 167.7,257.8" fill="#d3a157"/>
<polygon points="170.7,245.6 180.7,239.9 180.7,245.9 170.7,251.6" fill="#9c6f33"/>
<polygon points="180.7,239.9 187.5,243.7 187.5,249.7 180.7,245.9" fill="#bd8a42"/>
<polygon points="170.7,245.6 180.7,239.9 179.5,237.3 169.5,243.4" fill="#e3ba74"/>
<polygon points="180.7,239.9 187.5,243.7 188.9,241.5 182.1,237.5" fill="#d3a157"/>
<polygon points="170.7,251.6 177.5,255.4 177.5,249.4 170.7,245.6" fill="#d3a157"/>
<polygon points="177.5,255.4 187.5,249.7 187.5,243.7 177.5,249.4" fill="#bd8a42"/>
<polygon points="170.7,245.6 177.5,249.4 175.9,251.0 169.1,246.8" fill="#e3ba74"/>
<polygon points="177.5,249.4 187.5,243.7 188.7,245.5 178.7,251.4" fill="#d3a157"/>
<polygon points="182.7,238.7 192.7,233.0 192.7,239.0 182.7,244.7" fill="#9c6f33"/>
<polygon points="192.7,233.0 199.5,236.8 199.5,242.8 192.7,239.0" fill="#bd8a42"/>
<polygon points="182.7,238.7 192.7,233.0 191.5,230.4 181.5,236.5" fill="#e3ba74"/>
<polygon points="192.7,233.0 199.5,236.8 200.9,234.6 194.1,230.6" fill="#d3a157"/>
<polygon points="182.7,244.7 189.5,248.5 189.5,242.5 182.7,238.7" fill="#d3a157"/>
<polygon points="189.5,248.5 199.5,242.8 199.5,236.8 189.5,242.5" fill="#bd8a42"/>
<polygon points="182.7,238.7 189.5,242.5 187.9,244.1 181.1,239.9" fill="#e3ba74"/>
<polygon points="189.5,242.5 199.5,236.8 200.7,238.6 190.7,244.5" fill="#d3a157"/>
<polygon points="194.2,232.1 204.2,226.4 204.2,232.4 194.2,238.1" fill="#9c6f33"/>
<polygon points="204.2,226.4 211.0,230.2 211.0,236.2 204.2,232.4" fill="#bd8a42"/>
<polygon points="194.2,232.1 204.2,226.4 203.0,223.8 193.0,229.9" fill="#e3ba74"/>
<polygon points="204.2,226.4 211.0,230.2 212.4,228.0 205.6,224.0" fill="#d3a157"/>
<polygon points="194.2,238.1 201.0,241.9 201.0,235.9 194.2,232.1" fill="#d3a157"/>
<polygon points="201.0,241.9 211.0,236.2 211.0,230.2 201.0,235.9" fill="#bd8a42"/>
<polygon points="194.2,232.1 201.0,235.9 199.4,237.5 192.6,233.3" fill="#e3ba74"/>
<polygon points="201.0,235.9 211.0,230.2 212.2,232.0 202.2,237.9" fill="#d3a157"/>
<polygon points="156.0,231.4 172.4,221.6 187.0,228.6 170.0,238.8" fill="#acb0b7" stroke="#5d626a" stroke-width="0.4" stroke-linejoin="round"/>
<polygon points="160.0,231.4 172.4,224.2 182.0,228.6 170.0,235.8" fill="#c9ccd1"/>
<polygon points="156.0,231.4 170.0,238.8 170.0,246.0 156.0,239.0" fill="#868b93"/>
<polygon points="170.0,238.8 187.0,228.6 187.0,236.0 170.0,246.0" fill="#7d828a"/>
<polygon points="174.4,224.8 191.4,216.0 197.3,219.7 179.6,229.3" fill="#4f9a6c" stroke="#2f6a48" stroke-width="0.4" stroke-linejoin="round"/>
<polyline points="177.0,226.0 193.0,217.6" fill="none" stroke="#8fd0a0" stroke-width="0.5"/>
<polygon points="184.0,231.0 201.6,220.4 210.6,224.6 193.0,235.4" fill="#e6e8eb" stroke="#868b93" stroke-width="0.5" stroke-linejoin="round"/>
<polygon points="184.0,231.0 193.0,235.4 193.0,240.4 184.0,236.0" fill="#acb0b7" stroke="#868b93" stroke-width="0.3" stroke-linejoin="round"/>
<polygon points="193.0,235.4 210.6,224.6 210.6,229.6 193.0,240.4" fill="#c9ccd1" stroke="#868b93" stroke-width="0.3" stroke-linejoin="round"/>
<polyline points="189.8,227.5 198.8,231.9" fill="none" stroke="#868b93" stroke-width="0.6"/>
<polyline points="195.6,224.0 204.6,228.4" fill="none" stroke="#868b93" stroke-width="0.6"/>
<polygon points="187.2,230.3 190.6,228.3 193.4,229.7 190.0,231.7" fill="#f6f7f8"/>
<polygon points="193.2,226.7 196.6,224.7 199.4,226.1 196.0,228.1" fill="#f6f7f8"/>
<polygon points="199.0,223.2 202.4,221.2 205.2,222.6 201.8,224.6" fill="#f6f7f8"/>
<polygon points="178.6,174.6 186.0,171.4 191.4,176.4 191.4,182.4 184.0,184.8 178.6,180.6" fill="#acb0b7" stroke="#5d626a" stroke-width="0.4" stroke-linejoin="round"/>
<ellipse cx="180.6" cy="177.4" rx="2.6" ry="3.4" fill="#d9dbde" stroke="#666b73" stroke-width="0.4" transform="rotate(-25 180.6 177.4)"/>
<polyline points="184.4,172.6 184.4,184.4" fill="none" stroke="#5d626a" stroke-width="0.7"/>
<polyline points="187.6,173.4 187.6,183.4" fill="none" stroke="#5d626a" stroke-width="0.5"/>
<polygon points="180.8,181.6 191.0,177.6 191.0,194.6 184.4,198.4 180.8,195.0" fill="#2f86c8"/>
<polygon points="182.8,186.0 189.0,183.6 189.0,188.6 182.8,191.0" fill="#184c7e"/>
<polygon points="190.4,182.0 193.0,177.4 197.6,175.6 198.6,176.4 198.6,219.4 192.6,219.4 192.6,212.0 190.4,212.0" fill="#2d8dc8"/>
<polygon points="198.6,176.4 201.4,176.4 203.0,179.6 203.0,213.4 198.6,215.8" fill="#1d6ca2"/>
<polygon points="193.0,177.4 197.6,175.6 201.4,176.4 198.6,176.4" fill="#8fcdf0"/>
<polygon points="173.3,204.4 193.3,188.8 199.2,191.0 178.5,207.3" fill="#62b8e2"/>
<polygon points="173.3,204.4 178.5,207.3 178.5,211.2 173.3,208.8" fill="#1d4f80"/>
<polygon points="178.5,207.3 199.2,191.0 199.2,197.2 178.5,211.8" fill="#2f86c8"/>
<polygon points="170.6,208.6 173.4,208.8 178.5,211.6 195.4,199.6 195.4,208.4 178.2,219.4 170.6,215.0" fill="#6a6f77"/>
<polyline points="174.0,209.4 174.0,217.8" fill="none" stroke="#383d45" stroke-width="0.8"/>
<polyline points="177.1,207.5 177.1,215.9" fill="none" stroke="#383d45" stroke-width="0.8"/>
<polyline points="180.2,205.5 180.2,213.9" fill="none" stroke="#383d45" stroke-width="0.8"/>
<polyline points="183.3,203.6 183.3,212.0" fill="none" stroke="#383d45" stroke-width="0.8"/>
<polyline points="186.4,201.6 186.4,210.0" fill="none" stroke="#383d45" stroke-width="0.8"/>
<polyline points="189.5,199.7 189.5,208.1" fill="none" stroke="#383d45" stroke-width="0.8"/>
<polyline points="192.6,197.7 192.6,206.1" fill="none" stroke="#383d45" stroke-width="0.8"/>
<polyline points="170.6,212.2 178.2,216.2 195.4,205.4" fill="none" stroke="#c9ccd1" stroke-width="0.6"/>
<polygon points="169.6,207.4 172.6,206.2 172.6,209.0 169.6,210.2" fill="#acb0b7"/>
<rect x="218.5" y="221.3" width="1.0" height="4.0" fill="#5d626a"/>
<rect x="222.5" y="219.0" width="1.0" height="4.0" fill="#5d626a"/>
<rect x="231.5" y="213.8" width="1.0" height="4.0" fill="#5d626a"/>
<rect x="237.5" y="210.3" width="1.0" height="4.0" fill="#5d626a"/>
<rect x="247.4" y="193.4" width="2.0" height="10.6" fill="#2f86c8"/>
<polygon points="243.4,201.4 249.6,199.0 249.6,204.4 243.4,207.0" fill="#2f86c8"/>
<polygon points="242.0,185.6 252.4,182.8 253.2,183.6 253.2,191.6 243.2,194.6 242.0,193.6" fill="#2f86c8" stroke="#1f66a6" stroke-width="0.4" stroke-linejoin="round"/>
<polygon points="246.0,187.2 251.6,185.6 251.6,190.4 246.0,192.0" fill="#3a3a3e"/>
<polygon points="246.8,187.8 251.0,186.6 251.0,188.6 246.8,189.8" fill="#c9682c"/>
<rect x="246.2" y="183.0" width="2" height="2" fill="#ee7a20"/>
<polygon points="262.6,183.4 270.6,179.0 277.4,182.4 269.4,186.8" fill="#acb0b7" stroke="#868b93" stroke-width="0.4" stroke-linejoin="round"/>
<polygon points="262.6,183.4 269.4,186.8 269.4,188.4 262.6,185.0" fill="#868b93"/>
<rect x="266.6" y="187.0" width="1.6" height="7.0" fill="#2f86c8"/>
<polygon points="272.4,185.2 282.8,179.2 282.8,185.6 272.4,191.6" fill="#9c6f33"/>
<polygon points="282.8,179.2 290.0,183.2 290.0,189.6 282.8,185.6" fill="#bd8a42"/>
<polygon points="272.4,185.2 282.8,179.2 281.6,176.6 271.2,183.0" fill="#e3ba74"/>
<polygon points="282.8,179.2 290.0,183.2 291.4,181.0 284.2,176.8" fill="#d3a157"/>
<polygon points="272.4,191.6 279.6,195.6 279.6,189.2 272.4,185.2" fill="#d3a157"/>
<polygon points="279.6,195.6 290.0,189.6 290.0,183.2 279.6,189.2" fill="#bd8a42"/>
<polygon points="272.4,185.2 279.6,189.2 278.0,190.8 270.8,186.4" fill="#e3ba74"/>
<polygon points="279.6,189.2 290.0,183.2 291.2,185.0 280.8,191.2" fill="#d3a157"/>
<polygon points="250.0,197.1 260.0,191.3 260.0,197.1 250.0,202.9" fill="#9c6f33"/>
<polygon points="260.0,191.3 267.0,195.2 267.0,201.1 260.0,197.1" fill="#bd8a42"/>
<polygon points="250.0,197.1 260.0,191.3 258.8,188.7 248.8,194.9" fill="#e3ba74"/>
<polygon points="260.0,191.3 267.0,195.2 268.4,193.1 261.4,188.9" fill="#d3a157"/>
<polygon points="250.0,202.9 257.0,206.8 257.0,201.0 250.0,197.1" fill="#d3a157"/>
<polygon points="257.0,206.8 267.0,201.1 267.0,195.2 257.0,201.0" fill="#bd8a42"/>
<polygon points="250.0,197.1 257.0,201.0 255.4,202.6 248.4,198.3" fill="#e3ba74"/>
<polygon points="257.0,201.0 267.0,195.2 268.2,197.1 258.2,203.0" fill="#d3a157"/>
<rect x="295.3" y="209.6" width="2.6" height="7.6" fill="#2f86c8"/>
<rect x="294.7" y="216.8" width="3.8" height="1.4" fill="#5d626a"/>
<rect x="307.7" y="203.4" width="2.6" height="7.6" fill="#2f86c8"/>
<rect x="307.1" y="210.6" width="3.8" height="1.4" fill="#5d626a"/>
<polygon points="283.0,196.6 292.6,190.6 309.8,204.0 299.6,210.2" fill="#bfc3c8"/>
<polyline points="284.0,197.4 293.8,191.3" fill="none" stroke="#8d9299" stroke-width="0.5"/>
<polyline points="286.1,199.2 295.9,193.1" fill="none" stroke="#8d9299" stroke-width="0.5"/>
<polyline points="288.2,200.8 298.0,194.8" fill="none" stroke="#8d9299" stroke-width="0.5"/>
<polyline points="290.3,202.5 300.1,196.4" fill="none" stroke="#8d9299" stroke-width="0.5"/>
<polyline points="292.3,204.2 302.1,198.2" fill="none" stroke="#8d9299" stroke-width="0.5"/>
<polyline points="294.4,205.9 304.2,199.8" fill="none" stroke="#8d9299" stroke-width="0.5"/>
<polyline points="296.5,207.6 306.3,201.5" fill="none" stroke="#8d9299" stroke-width="0.5"/>
<polyline points="298.6,209.3 308.4,203.2" fill="none" stroke="#8d9299" stroke-width="0.5"/>
<polyline points="282.4,196.4 299.4,210.8 310.2,204.4" fill="none" stroke="#2f86c8" stroke-width="1.7" stroke-linejoin="round"/>
<polygon points="291.0,190.6 345.0,159.6 345.0,164.0 291.0,195.0" fill="#2f86c8"/>
<rect x="298.9" y="188.4" width="2.2" height="9.0" fill="#2f86c8"/>
<rect x="298.3" y="197.0" width="3.4" height="1.2" fill="#5d626a"/>
<rect x="317.4" y="177.8" width="2.2" height="9.0" fill="#2f86c8"/>
<rect x="316.8" y="186.4" width="3.4" height="1.2" fill="#5d626a"/>
<rect x="338.4" y="165.8" width="2.2" height="9.0" fill="#2f86c8"/>
<rect x="337.8" y="174.4" width="3.4" height="1.2" fill="#5d626a"/>
<polygon points="284.0,178.8 331.4,152.2 343.2,159.6 297.4,187.0" fill="#c9ccd1"/>
<polygon points="284.0,165.5 331.4,138.9 331.4,152.2 284.0,178.8" fill="#86caee" opacity="0.85"/>
<rect x="313.0" y="147.0" width="2.0" height="15.0" fill="#acb0b7"/>
<polyline points="313.2,147.4 328.4,155.4" fill="none" stroke="#acb0b7" stroke-width="1.6"/>
<polyline points="306.6,161.4 319.0,155.4" fill="none" stroke="#868b93" stroke-width="1.3"/>
<polyline points="306.6,161.4 306.6,164.0" fill="none" stroke="#868b93" stroke-width="1"/>
<circle cx="326.2" cy="147" r="2.1" fill="#2f86c8"/><circle cx="326.2" cy="147" r="0.9" fill="#bfe2f6"/>
<rect x="327.0" y="139.0" width="3.0" height="35.4" fill="#acb0b7"/>
<polyline points="327.2,139.0 327.2,174.0" fill="none" stroke="#5d626a" stroke-width="0.4"/>
<polygon points="284.0,165.5 297.4,173.6 297.4,187.0 284.0,178.8" fill="#86caee" opacity="0.9"/>
<polygon points="286.4,169.6 295.4,175.0 295.4,185.2 286.4,179.6" fill="#4a5058" opacity="0.35"/>
<polygon points="297.4,173.6 343.2,145.5 343.2,159.6 297.4,187.0" fill="#6dbae6" opacity="0.9"/>
<polygon points="305.0,170.9 307.0,169.7 304.4,180.9 302.6,181.9" fill="#c8e8f8" opacity="0.75"/>
<polygon points="312.0,166.6 314.0,165.4 311.4,176.6 309.6,177.6" fill="#c8e8f8" opacity="0.75"/>
<polygon points="333.0,153.8 335.0,152.6 332.4,163.8 330.6,164.8" fill="#c8e8f8" opacity="0.75"/>
<polygon points="338.0,150.7 340.0,149.5 337.4,160.7 335.6,161.7" fill="#c8e8f8" opacity="0.75"/>
<polygon points="284.0,165.5 331.4,138.9 343.2,145.5 297.4,173.6" fill="#b4e0f6" opacity="0.55"/>
<polyline points="284.0,165.5 331.4,138.9 343.2,145.5 297.4,173.6 284.0,165.5" fill="none" stroke="#868b93" stroke-width="1.1" stroke-linejoin="round"/>
<polyline points="284.0,165.5 284.0,178.8" fill="none" stroke="#868b93" stroke-width="1.1" stroke-linejoin="round"/>
<polyline points="297.4,173.6 297.4,187.2" fill="none" stroke="#868b93" stroke-width="1.1" stroke-linejoin="round"/>
<polyline points="343.2,145.5 343.2,159.6" fill="none" stroke="#868b93" stroke-width="1.1" stroke-linejoin="round"/>
<polyline points="284.0,178.8 297.4,187.0 343.2,159.6" fill="none" stroke="#868b93" stroke-width="1.1" stroke-linejoin="round"/>
<polyline points="284.0,165.5 297.4,173.6 343.2,145.5" fill="none" stroke="#e6e8eb" stroke-width="0.5"/>
<rect x="312.8" y="145.2" width="2" height="2" fill="#ee7a20"/>
<rect x="377.3" y="143.0" width="2.2" height="13.0" fill="#2f86c8"/>
<rect x="376.6" y="155.6" width="3.6" height="1.4" fill="#5d626a"/>
<rect x="384.3" y="142.6" width="2.2" height="13.0" fill="#2f86c8"/>
<rect x="383.6" y="155.2" width="3.6" height="1.4" fill="#5d626a"/>
<rect x="354.9" y="154.6" width="2.2" height="13.0" fill="#2f86c8"/>
<rect x="354.2" y="167.2" width="3.6" height="1.4" fill="#5d626a"/>
<polygon points="353.7,151.4 379.4,137.6 370.2,129.4 344.5,143.2" fill="#e2e4e7"/>
<polyline points="354.6,150.9 345.4,142.7" fill="none" stroke="#868b93" stroke-width="0.65"/>
<polyline points="356.5,149.9 347.3,141.7" fill="none" stroke="#868b93" stroke-width="0.65"/>
<polyline points="358.3,148.9 349.1,140.7" fill="none" stroke="#868b93" stroke-width="0.65"/>
<polyline points="360.1,147.9 350.9,139.8" fill="none" stroke="#868b93" stroke-width="0.65"/>
<polyline points="362.0,147.0 352.8,138.8" fill="none" stroke="#868b93" stroke-width="0.65"/>
<polyline points="363.8,146.0 354.6,137.8" fill="none" stroke="#868b93" stroke-width="0.65"/>
<polyline points="365.6,145.0 356.4,136.8" fill="none" stroke="#868b93" stroke-width="0.65"/>
<polyline points="367.5,144.0 358.3,135.8" fill="none" stroke="#868b93" stroke-width="0.65"/>
<polyline points="369.3,143.0 360.1,134.8" fill="none" stroke="#868b93" stroke-width="0.65"/>
<polyline points="371.1,142.0 361.9,133.8" fill="none" stroke="#868b93" stroke-width="0.65"/>
<polyline points="373.0,141.1 363.8,132.9" fill="none" stroke="#868b93" stroke-width="0.65"/>
<polyline points="374.8,140.1 365.6,131.9" fill="none" stroke="#868b93" stroke-width="0.65"/>
<polyline points="376.6,139.1 367.4,130.9" fill="none" stroke="#868b93" stroke-width="0.65"/>
<polyline points="378.5,138.1 369.3,129.9" fill="none" stroke="#868b93" stroke-width="0.65"/>
<polyline points="344.5,143.2 370.2,129.4" fill="none" stroke="#5d626a" stroke-width="0.5"/>
<polygon points="349.4,156.8 381.0,139.4 381.0,142.4 349.4,159.8" fill="#2f86c8"/>
<polygon points="349.4,156.8 353.7,151.4 353.7,151.4 349.4,156.8" fill="#2f86c8"/>
<polygon points="344.0,157.6 353.7,151.4 381.0,136.8 381.0,139.6 349.4,157.0" fill="#2f86c8"/>
<rect x="360.5" y="136.0" width="1.0" height="3.6" fill="#5d626a"/>
<rect x="364.9" y="133.6" width="1.0" height="3.6" fill="#5d626a"/>
<rect x="349.1" y="143.4" width="1.0" height="3.6" fill="#5d626a"/>
<polygon points="344.2,153.8 351.0,157.6 351.0,151.4 344.2,147.6" fill="#d3a157" stroke="#9c6f33" stroke-width="0.25" stroke-linejoin="round"/>
<polygon points="351.0,157.6 356.0,154.7 356.0,148.5 351.0,151.4" fill="#bd8a42" stroke="#9c6f33" stroke-width="0.25" stroke-linejoin="round"/>
<polygon points="344.2,147.6 351.0,151.4 356.0,148.5 349.2,144.7" fill="#e3ba74" stroke="#9c6f33" stroke-width="0.25" stroke-linejoin="round"/>
<polygon points="372.9,117.7 388.4,109.6 388.4,120.6 372.9,128.6" fill="#2f86c8" stroke="#1f66a6" stroke-width="0.4" stroke-linejoin="round"/>
<circle cx="377.3" cy="119.4" r="1.7" fill="#d9ecf8"/><circle cx="377.3" cy="119.4" r="0.8" fill="#2f86c8"/>
<rect x="380.8" y="111.4" width="2" height="2" fill="#ee7a20"/>
<polygon points="372.0,127.6 382.5,122.2 382.5,137.4 372.0,134.4" fill="#c9ccd1"/>
<polyline points="372.0,128.6 382.5,123.4" fill="none" stroke="#5d626a" stroke-width="0.6"/>
<polyline points="372.0,131.2 382.5,126.0" fill="none" stroke="#5d626a" stroke-width="0.6"/>
<polyline points="372.0,133.8 382.5,128.6" fill="none" stroke="#5d626a" stroke-width="0.6"/>
<polyline points="372.0,136.4 382.5,131.2" fill="none" stroke="#5d626a" stroke-width="0.6"/>
<rect x="383.0" y="141.6" width="2.0" height="9.6" fill="#2f86c8"/>
<rect x="396.0" y="137.2" width="2.0" height="9.6" fill="#2f86c8"/>
<polyline points="384.0,147.0 397.0,142.6 404.0,146.0" fill="none" stroke="#2f86c8" stroke-width="1.5"/>
<rect x="383.0" y="150.6" width="2.2" height="1.4" fill="#5d626a"/>
<rect x="396.0" y="146.4" width="2.2" height="1.4" fill="#5d626a"/>
<polygon points="382.5,122.2 396.2,114.2 399.6,115.8 399.6,118.0 398.0,117.2 382.5,125.6" fill="#acb0b7"/>
<polygon points="382.5,123.6 398.0,115.8 398.0,137.7 382.5,142.1" fill="#2f86c8" stroke="#1f66a6" stroke-width="0.4" stroke-linejoin="round"/>
<polygon points="388.4,124.0 395.8,120.4 395.8,131.8 388.4,134.4" fill="#5aa8e0" stroke="#bfe0f6" stroke-width="0.4" stroke-linejoin="round"/>
<polygon points="398.0,115.8 399.6,116.6 399.6,137.0 398.0,137.7" fill="#1f66a6"/>
<rect x="402.9" y="125.0" width="2.2" height="13.0" fill="#2f86c8"/>
<rect x="402.2" y="137.6" width="3.6" height="1.4" fill="#5d626a"/>
<rect x="408.3" y="128.6" width="2.2" height="9.0" fill="#2f86c8"/>
<rect x="407.6" y="137.2" width="3.6" height="1.4" fill="#5d626a"/>
<rect x="421.3" y="117.8" width="2.2" height="9.6" fill="#2f86c8"/>
<rect x="420.6" y="127.0" width="3.6" height="1.4" fill="#5d626a"/>
<rect x="436.7" y="117.8" width="2.2" height="9.6" fill="#2f86c8"/>
<rect x="436.0" y="127.0" width="3.6" height="1.4" fill="#5d626a"/>
<rect x="447.9" y="124.0" width="2.2" height="8.0" fill="#2f86c8"/>
<rect x="447.2" y="131.6" width="3.6" height="1.4" fill="#5d626a"/>
<polyline points="404.0,131.0 409.4,134.0" fill="none" stroke="#2f86c8" stroke-width="1.2"/>
<polygon points="397.2,114.8 415.0,104.5 424.6,100.9 429.0,100.2 433.4,100.8 443.8,105.2 463.0,114.8 477.6,122.2 473.0,132.0 458.6,124.4 440.8,114.8 433.4,110.4 430.0,109.6 426.8,109.8 421.6,112.6 402.4,124.4" fill="#e2e4e7"/>
<polyline points="398.3,114.1 403.4,123.8" fill="none" stroke="#868b93" stroke-width="0.6"/>
<polyline points="400.6,112.8 405.4,122.5" fill="none" stroke="#868b93" stroke-width="0.6"/>
<polyline points="402.9,111.5 407.4,121.3" fill="none" stroke="#868b93" stroke-width="0.6"/>
<polyline points="405.1,110.2 409.4,120.1" fill="none" stroke="#868b93" stroke-width="0.6"/>
<polyline points="407.4,108.9 411.4,118.8" fill="none" stroke="#868b93" stroke-width="0.6"/>
<polyline points="409.6,107.6 413.5,117.6" fill="none" stroke="#868b93" stroke-width="0.6"/>
<polyline points="411.9,106.3 415.5,116.4" fill="none" stroke="#868b93" stroke-width="0.6"/>
<polyline points="414.2,105.0 417.5,115.1" fill="none" stroke="#868b93" stroke-width="0.6"/>
<polyline points="416.5,103.9 419.5,113.9" fill="none" stroke="#868b93" stroke-width="0.6"/>
<polyline points="419.0,103.0 421.5,112.7" fill="none" stroke="#868b93" stroke-width="0.6"/>
<polyline points="421.4,102.1 423.6,111.5" fill="none" stroke="#868b93" stroke-width="0.6"/>
<polyline points="423.9,101.2 425.7,110.4" fill="none" stroke="#868b93" stroke-width="0.6"/>
<polyline points="426.4,100.6 427.9,109.7" fill="none" stroke="#868b93" stroke-width="0.6"/>
<polyline points="429.0,100.2 430.2,109.6" fill="none" stroke="#868b93" stroke-width="0.6"/>
<polyline points="431.6,100.6 432.5,110.2" fill="none" stroke="#868b93" stroke-width="0.6"/>
<polyline points="434.1,101.1 434.6,111.1" fill="none" stroke="#868b93" stroke-width="0.6"/>
<polyline points="436.5,102.1 436.7,112.3" fill="none" stroke="#868b93" stroke-width="0.6"/>
<polyline points="438.9,103.1 438.7,113.6" fill="none" stroke="#868b93" stroke-width="0.6"/>
<polyline points="441.3,104.2 440.7,114.8" fill="none" stroke="#868b93" stroke-width="0.6"/>
<polyline points="443.8,105.2 442.8,115.9" fill="none" stroke="#868b93" stroke-width="0.6"/>
<polyline points="446.1,106.3 444.9,117.0" fill="none" stroke="#868b93" stroke-width="0.6"/>
<polyline points="448.4,107.5 447.0,118.1" fill="none" stroke="#868b93" stroke-width="0.6"/>
<polyline points="450.8,108.7 449.0,119.2" fill="none" stroke="#868b93" stroke-width="0.6"/>
<polyline points="453.1,109.9 451.1,120.4" fill="none" stroke="#868b93" stroke-width="0.6"/>
<polyline points="455.4,111.0 453.2,121.5" fill="none" stroke="#868b93" stroke-width="0.6"/>
<polyline points="457.8,112.2 455.3,122.6" fill="none" stroke="#868b93" stroke-width="0.6"/>
<polyline points="460.1,113.4 457.3,123.7" fill="none" stroke="#868b93" stroke-width="0.6"/>
<polyline points="462.4,114.5 459.4,124.8" fill="none" stroke="#868b93" stroke-width="0.6"/>
<polyline points="464.8,115.7 461.5,125.9" fill="none" stroke="#868b93" stroke-width="0.6"/>
<polyline points="467.1,116.9 463.6,127.0" fill="none" stroke="#868b93" stroke-width="0.6"/>
<polyline points="469.4,118.1 465.7,128.1" fill="none" stroke="#868b93" stroke-width="0.6"/>
<polyline points="471.8,119.2 467.8,129.2" fill="none" stroke="#868b93" stroke-width="0.6"/>
<polyline points="474.1,120.4 469.9,130.3" fill="none" stroke="#868b93" stroke-width="0.6"/>
<polyline points="476.4,121.6 472.0,131.4" fill="none" stroke="#868b93" stroke-width="0.6"/>
<polyline points="397.2,114.8 415.0,104.5 424.6,100.9 429.0,100.2 433.4,100.8 443.8,105.2 463.0,114.8 477.6,122.2" fill="none" stroke="#5d626a" stroke-width="0.7" stroke-linejoin="round"/>
<polygon points="402.4,124.4 421.6,112.6 426.8,109.8 430.0,109.6 433.4,110.4 440.8,114.8 458.6,124.4 473.0,132.0 473.0,134.6 458.6,127.0 440.8,117.4 433.4,113.0 430.0,112.2 426.8,112.4 421.6,115.2 402.4,127.0" fill="#2f86c8"/>
<polyline points="402.4,124.4 421.6,112.6 426.8,109.8 430.0,109.6 433.4,110.4 440.8,114.8 458.6,124.4 473.0,132.0" fill="none" stroke="#58aee6" stroke-width="0.5"/>
<rect x="404.4" y="107.4" width="1.0" height="3.0" fill="#5d626a"/>
<rect x="412.1" y="102.9" width="1.0" height="3.0" fill="#5d626a"/>
<rect x="420.2" y="99.4" width="1.0" height="3.0" fill="#5d626a"/>
<polygon points="442.0,116.9 446.4,119.2 446.4,114.0 442.0,111.7" fill="#b98845" stroke="#9c6f33" stroke-width="0.25" stroke-linejoin="round"/>
<polygon points="446.4,119.2 451.8,116.5 451.8,111.3 446.4,114.0" fill="#cfa060" stroke="#9c6f33" stroke-width="0.25" stroke-linejoin="round"/>
<polygon points="442.0,111.7 446.4,114.0 451.8,111.3 447.4,109.0" fill="#e0bd82" stroke="#9c6f33" stroke-width="0.25" stroke-linejoin="round"/>
<polyline points="452.6,142.6 466.4,151.4" fill="none" stroke="#2f86c8" stroke-width="2.6"/>
<polyline points="466.4,151.4 477.4,136.6" fill="none" stroke="#2f86c8" stroke-width="2.6"/>
<polyline points="470.0,146.0 483.0,153.6" fill="none" stroke="#2f86c8" stroke-width="2.2"/>
<polyline points="458.0,126.0 458.0,133.0" fill="none" stroke="#2f86c8" stroke-width="2"/>
<polygon points="453.4,121.6 466.6,114.6 481.6,122.4 468.4,129.6" fill="#c9ccd1" stroke="#868b93" stroke-width="0.4" stroke-linejoin="round"/>
<polygon points="453.4,121.6 468.4,129.6 468.4,132.4 453.4,124.4" fill="#868b93"/>
<polygon points="468.4,129.6 481.6,122.4 481.6,125.2 468.4,132.4" fill="#acb0b7"/>
<polyline points="457.0,120.6 468.0,126.4" fill="none" stroke="#868b93" stroke-width="0.5"/>
<polyline points="459.6,119.2 470.6,125.0" fill="none" stroke="#868b93" stroke-width="0.5"/>
<polyline points="462.2,117.8 473.2,123.6" fill="none" stroke="#868b93" stroke-width="0.5"/>
<polyline points="464.8,116.4 475.8,122.2" fill="none" stroke="#868b93" stroke-width="0.5"/>
<polyline points="467.4,115.0 478.4,120.8" fill="none" stroke="#868b93" stroke-width="0.5"/>
<polygon points="474.8,124.4 480.6,121.4 487.4,125.0 481.6,128.2" fill="#2f86c8"/>
<polygon points="481.6,128.2 487.4,125.0 487.4,129.4 481.6,132.4" fill="#1f66a6"/>
<rect x="477.0" y="113.6" width="1.8" height="6.8" fill="#e6e8eb"/>
<rect x="476.7" y="112.2" width="2" height="2" fill="#ee7a20"/>
<ellipse cx="457.8" cy="138.6" rx="7.2" ry="8.2" fill="#8a5e32" transform="rotate(-12 457.6 139)"/>
<ellipse cx="456.2" cy="138.2" rx="6.2" ry="7.8" fill="#b98248" transform="rotate(-12 456.2 138.6)"/>
<ellipse cx="455.8" cy="138.4" rx="3.8" ry="5.2" fill="none" stroke="#8a5e32" stroke-width="0.7" transform="rotate(-12 455.8 138.4)"/>
<ellipse cx="455.4" cy="138.2" rx="2.1" ry="3" fill="#5a3c20" transform="rotate(-12 455.4 138.2)"/>
<polygon points="448.6,134.4 453.6,132.8 454.6,137.4 449.6,139.0" fill="#2f86c8"/>
<polyline points="472.0,118.0 471.9,116.3 471.5,114.8 471.0,113.5 470.2,112.5 469.2,111.7 468.0,111.2 466.8,111.0 465.4,111.1 463.9,111.5 462.4,112.2 460.9,113.2 459.4,114.4 458.0,115.9 456.8,117.5 455.6,119.3 454.6,121.2 453.8,123.1 453.3,125.1 452.9,127.0 452.8,128.8 452.9,130.5 453.3,132.0 453.8,133.3 454.6,134.3 455.6,135.1 456.8,135.6 458.0,135.8 459.4,135.7 460.9,135.3 462.4,134.6 463.9,133.6 465.4,132.4 466.8,130.9 468.0,129.3 469.2,127.5 470.2,125.6 471.0,123.7 471.5,121.7 471.9,119.8 472.0,118.0" fill="none" stroke="#8f9aa6" stroke-width="3.6" opacity="0.85" stroke-linejoin="round"/>
<polyline points="472.0,118.0 471.9,116.3 471.5,114.8 471.0,113.5 470.2,112.5 469.2,111.7 468.0,111.2 466.8,111.0 465.4,111.1 463.9,111.5 462.4,112.2 460.9,113.2 459.4,114.4 458.0,115.9 456.8,117.5 455.6,119.3 454.6,121.2 453.8,123.1 453.3,125.1 452.9,127.0 452.8,128.8 452.9,130.5 453.3,132.0 453.8,133.3 454.6,134.3 455.6,135.1 456.8,135.6 458.0,135.8 459.4,135.7 460.9,135.3 462.4,134.6 463.9,133.6 465.4,132.4 466.8,130.9 468.0,129.3 469.2,127.5 470.2,125.6 471.0,123.7 471.5,121.7 471.9,119.8 472.0,118.0" fill="none" stroke="#e6f1f9" stroke-width="2.5" stroke-linejoin="round"/>
<rect x="493.2" y="148.6" width="2.4" height="9.4" fill="#2f86c8"/>
<rect x="492.5" y="157.6" width="3.8" height="1.4" fill="#5d626a"/>
<rect x="485.8" y="150.6" width="2.4" height="9.4" fill="#2f86c8"/>
<rect x="485.1" y="159.6" width="3.8" height="1.4" fill="#5d626a"/>
<polygon points="476.0,134.0 500.2,147.6 505.8,141.8 481.6,128.2" fill="#e2e4e7"/>
<polyline points="476.9,134.5 482.5,128.7" fill="none" stroke="#868b93" stroke-width="0.65"/>
<polyline points="478.8,135.6 484.4,129.8" fill="none" stroke="#868b93" stroke-width="0.65"/>
<polyline points="480.7,136.6 486.3,130.8" fill="none" stroke="#868b93" stroke-width="0.65"/>
<polyline points="482.5,137.7 488.1,131.9" fill="none" stroke="#868b93" stroke-width="0.65"/>
<polyline points="484.4,138.7 490.0,132.9" fill="none" stroke="#868b93" stroke-width="0.65"/>
<polyline points="486.2,139.8 491.8,134.0" fill="none" stroke="#868b93" stroke-width="0.65"/>
<polyline points="488.1,140.8 493.7,135.0" fill="none" stroke="#868b93" stroke-width="0.65"/>
<polyline points="490.0,141.8 495.6,136.0" fill="none" stroke="#868b93" stroke-width="0.65"/>
<polyline points="491.8,142.9 497.4,137.1" fill="none" stroke="#868b93" stroke-width="0.65"/>
<polyline points="493.7,143.9 499.3,138.1" fill="none" stroke="#868b93" stroke-width="0.65"/>
<polyline points="495.5,145.0 501.1,139.2" fill="none" stroke="#868b93" stroke-width="0.65"/>
<polyline points="497.4,146.0 503.0,140.2" fill="none" stroke="#868b93" stroke-width="0.65"/>
<polyline points="499.3,147.1 504.9,141.3" fill="none" stroke="#868b93" stroke-width="0.65"/>
<polyline points="481.6,128.2 505.8,141.8" fill="none" stroke="#5d626a" stroke-width="0.5"/>
<polygon points="474.6,133.4 476.0,134.0 500.2,147.6 500.2,150.8 474.6,136.6" fill="#2f86c8"/>
<polyline points="481.6,128.2 505.8,141.8" fill="none" stroke="#5d626a" stroke-width="0.6"/>
<rect x="491.5" y="138.6" width="1.0" height="3.0" fill="#5d626a"/>
<rect x="496.5" y="141.4" width="1.0" height="3.0" fill="#5d626a"/>
<polygon points="500.2,149.4 505.8,143.4 553.0,169.6 548.0,175.4" fill="#c9ccd1"/>
<polygon points="500.2,149.4 548.0,175.4 548.0,178.8 500.2,152.8" fill="#2f86c8"/>
<polyline points="505.8,143.4 553.0,169.6" fill="none" stroke="#1f66a6" stroke-width="1.6"/>
<rect x="529.4" y="165" width="2" height="1.6" fill="#d2552c"/>
<rect x="551.6" y="108.0" width="2.0" height="58.0" fill="#c2c6cb"/>
<rect x="553.6" y="108.0" width="2.4" height="58.0" fill="#e6e8eb"/>
<polyline points="551.6,108.0 551.6,166.0" fill="none" stroke="#757a82" stroke-width="0.55"/>
<polyline points="556.0,108.0 556.0,166.0" fill="none" stroke="#757a82" stroke-width="0.55"/>
<polyline points="553.6,108.0 553.6,166.0" fill="none" stroke="#a4a9b0" stroke-width="0.3"/>
<polygon points="509.4,165.0 553.0,141.6 553.0,143.5 509.4,166.9" fill="#e6e8eb"/>
<polygon points="509.4,166.9 553.0,143.5 553.0,145.4 509.4,168.8" fill="#a9aeb5"/>
<polyline points="509.4,165.0 553.0,141.6" fill="none" stroke="#757a82" stroke-width="0.55"/>
<polyline points="509.4,168.8 553.0,145.4" fill="none" stroke="#757a82" stroke-width="0.55"/>
<polyline points="509.4,166.9 553.0,143.5" fill="none" stroke="#a4a9b0" stroke-width="0.3"/>
<polygon points="556.0,143.0 590.0,162.6 590.0,164.4 556.0,144.8" fill="#e6e8eb"/>
<polygon points="556.0,144.8 590.0,164.4 590.0,166.2 556.0,146.6" fill="#a9aeb5"/>
<polyline points="556.0,143.0 590.0,162.6" fill="none" stroke="#757a82" stroke-width="0.55"/>
<polyline points="556.0,146.6 590.0,166.2" fill="none" stroke="#757a82" stroke-width="0.55"/>
<polyline points="556.0,144.8 590.0,164.4" fill="none" stroke="#a4a9b0" stroke-width="0.3"/>
<polygon points="507.0,131.6 553.4,105.0 553.4,106.9 507.0,133.5" fill="#e6e8eb"/>
<polygon points="507.0,133.5 553.4,106.9 553.4,108.8 507.0,135.4" fill="#a9aeb5"/>
<polyline points="507.0,131.6 553.4,105.0" fill="none" stroke="#757a82" stroke-width="0.55"/>
<polyline points="507.0,135.4 553.4,108.8" fill="none" stroke="#757a82" stroke-width="0.55"/>
<polyline points="507.0,133.5 553.4,106.9" fill="none" stroke="#a4a9b0" stroke-width="0.3"/>
<polygon points="554.6,105.6 590.4,126.2 590.4,128.1 554.6,107.5" fill="#e6e8eb"/>
<polygon points="554.6,107.5 590.4,128.1 590.4,130.0 554.6,109.4" fill="#a9aeb5"/>
<polyline points="554.6,105.6 590.4,126.2" fill="none" stroke="#757a82" stroke-width="0.55"/>
<polyline points="554.6,109.4 590.4,130.0" fill="none" stroke="#757a82" stroke-width="0.55"/>
<polyline points="554.6,107.5 590.4,128.1" fill="none" stroke="#a4a9b0" stroke-width="0.3"/>
<polyline points="557.2,160.0 582.0,174.4" fill="none" stroke="#1f6aa0" stroke-width="2.2"/>
<polygon points="548.4,168.6 563.4,161.2 580.6,170.4 565.6,178.4" fill="#dcb676"/>
<polygon points="548.4,168.6 565.6,178.4 565.6,184.4 548.4,174.4" fill="#5e4128"/>
<polygon points="565.6,178.4 580.6,170.4 580.6,176.4 565.6,184.4" fill="#c49652"/>
<polyline points="552.6,166.4 569.8,176.2" fill="none" stroke="#f4ecd8" stroke-width="0.9"/>
<polyline points="556.6,164.4 573.8,174.2" fill="none" stroke="#f4ecd8" stroke-width="0.9"/>
<polyline points="560.6,162.6 577.6,172.2" fill="none" stroke="#f4ecd8" stroke-width="0.7"/>
<polyline points="581.0,174.6 584.0,173.0 584.0,179.6 581.0,181.0" fill="none" stroke="#1f66a6" stroke-width="1.6"/>
<polyline points="536.7,173.4 572.6,192.2 587.0,185.0" fill="none" stroke="#2f86c8" stroke-width="3.4" stroke-linejoin="miter"/>
<polyline points="549.0,175.6 567.6,185.4 586.2,175.6" fill="none" stroke="#2f86c8" stroke-width="2.2"/>
<polygon points="520.0,184.0 536.3,174.4 541.8,177.4 541.8,199.6 536.9,202.2 520.0,192.0" fill="#c3c6ca"/>
<polyline points="521.0,184.4 521.0,192.6" fill="none" stroke="#a3a7ad" stroke-width="0.45"/>
<polyline points="523.0,183.2 523.0,193.8" fill="none" stroke="#a3a7ad" stroke-width="0.45"/>
<polyline points="525.0,182.1 525.0,195.0" fill="none" stroke="#a3a7ad" stroke-width="0.45"/>
<polyline points="527.0,180.9 527.0,196.2" fill="none" stroke="#a3a7ad" stroke-width="0.45"/>
<polyline points="529.0,179.7 529.0,197.4" fill="none" stroke="#a3a7ad" stroke-width="0.45"/>
<polyline points="531.0,178.5 531.0,198.6" fill="none" stroke="#a3a7ad" stroke-width="0.45"/>
<polyline points="533.0,177.3 533.0,199.8" fill="none" stroke="#a3a7ad" stroke-width="0.45"/>
<polyline points="535.0,176.2 535.0,201.0" fill="none" stroke="#a3a7ad" stroke-width="0.45"/>
<polyline points="537.0,175.0 537.0,202.2" fill="none" stroke="#a3a7ad" stroke-width="0.45"/>
<polyline points="539.0,173.8 539.0,203.4" fill="none" stroke="#a3a7ad" stroke-width="0.45"/>
<polyline points="541.0,172.6 541.0,204.6" fill="none" stroke="#a3a7ad" stroke-width="0.45"/>
<polygon points="513.4,179.8 536.3,167.8 536.3,174.4 513.4,185.8" fill="#2f86c8"/>
<polyline points="513.4,179.8 536.3,167.8" fill="none" stroke="#58aee6" stroke-width="0.5"/>
<polyline points="517.6,162.8 531.5,170.0" fill="none" stroke="#2f86c8" stroke-width="2.8"/>
<polygon points="490.0,193.4 513.4,180.4 513.4,184.4 490.0,197.4" fill="#2f86c8"/>
<polyline points="536.3,168.4 546.6,174.0" fill="none" stroke="#2f86c8" stroke-width="2.4"/>
<path d="M506.8,175 Q506.8,172.6 509,172.6 L513.4,172.6 L513.4,184 L506.8,186.6 Z" fill="#eef0f2" stroke="#8f949b" stroke-width="0.4"/>
<rect x="504.6" y="134.6" width="2.2" height="61.4" fill="#c2c6cb"/>
<rect x="506.8" y="134.6" width="2.6" height="61.4" fill="#e6e8eb"/>
<polyline points="504.6,134.6 504.6,196.0" fill="none" stroke="#757a82" stroke-width="0.55"/>
<polyline points="509.4,134.6 509.4,196.0" fill="none" stroke="#757a82" stroke-width="0.55"/>
<polyline points="506.8,134.6 506.8,196.0" fill="none" stroke="#a4a9b0" stroke-width="0.3"/>
<polygon points="462.4,150.6 466.0,144.2 468.8,145.2 465.8,152.2" fill="#f0f1f3" stroke="#868b93" stroke-width="0.4" stroke-linejoin="round"/>
<polygon points="469.4,146.6 473.0,140.2 475.8,141.2 472.8,148.2" fill="#f0f1f3" stroke="#868b93" stroke-width="0.4" stroke-linejoin="round"/>
<polygon points="475.4,146.4 479.0,140.0 481.8,141.0 478.8,148.0" fill="#f0f1f3" stroke="#868b93" stroke-width="0.4" stroke-linejoin="round"/>
<polygon points="447.4,152.6 452.6,151.4 455.0,158.0 450.4,160.0" fill="#f0f1f3" stroke="#868b93" stroke-width="0.4" stroke-linejoin="round"/>
<polygon points="497.0,159.6 501.0,153.6 503.6,155.0 501.4,161.4" fill="#f0f1f3" stroke="#868b93" stroke-width="0.4" stroke-linejoin="round"/>
<polygon points="454.8,159.2 476.2,173.4 476.2,195.0 454.8,179.0" fill="#6a4a2c"/>
<polyline points="454.8,161.6 476.2,175.8" fill="none" stroke="#3e2a18" stroke-width="0.5"/>
<polyline points="454.8,163.7 476.2,177.9" fill="none" stroke="#3e2a18" stroke-width="0.5"/>
<polyline points="454.8,165.8 476.2,180.0" fill="none" stroke="#3e2a18" stroke-width="0.5"/>
<polyline points="454.8,167.9 476.2,182.1" fill="none" stroke="#3e2a18" stroke-width="0.5"/>
<polyline points="454.8,170.0 476.2,184.2" fill="none" stroke="#3e2a18" stroke-width="0.5"/>
<polyline points="454.8,172.1 476.2,186.3" fill="none" stroke="#3e2a18" stroke-width="0.5"/>
<polyline points="454.8,174.2 476.2,188.4" fill="none" stroke="#3e2a18" stroke-width="0.5"/>
<polyline points="454.8,176.3 476.2,190.5" fill="none" stroke="#3e2a18" stroke-width="0.5"/>
<polyline points="454.8,178.4 476.2,192.6" fill="none" stroke="#3e2a18" stroke-width="0.5"/>
<polygon points="476.2,173.4 497.0,160.8 497.0,183.2 476.2,195.0" fill="#b98c58"/>
<polyline points="476.2,175.4 497.0,162.8" fill="none" stroke="#8f6a3e" stroke-width="0.45"/>
<polyline points="476.2,177.5 497.0,164.9" fill="none" stroke="#8f6a3e" stroke-width="0.45"/>
<polyline points="476.2,179.6 497.0,167.0" fill="none" stroke="#8f6a3e" stroke-width="0.45"/>
<polyline points="476.2,181.7 497.0,169.1" fill="none" stroke="#8f6a3e" stroke-width="0.45"/>
<polyline points="476.2,183.8 497.0,171.2" fill="none" stroke="#8f6a3e" stroke-width="0.45"/>
<polyline points="476.2,185.9 497.0,173.3" fill="none" stroke="#8f6a3e" stroke-width="0.45"/>
<polyline points="476.2,188.0 497.0,175.4" fill="none" stroke="#8f6a3e" stroke-width="0.45"/>
<polyline points="476.2,190.1 497.0,177.5" fill="none" stroke="#8f6a3e" stroke-width="0.45"/>
<polyline points="476.2,192.2 497.0,179.6" fill="none" stroke="#8f6a3e" stroke-width="0.45"/>
<polyline points="476.2,194.3 497.0,181.7" fill="none" stroke="#8f6a3e" stroke-width="0.45"/>
<polygon points="454.8,159.2 474.0,148.1 497.0,160.8 476.2,173.4" fill="#ab7c4c"/>
<polygon points="458.0,159.2 474.0,150.0 484.0,155.6 468.0,165.0" fill="#b88a58" opacity="0.7"/>
<rect x="446.7" y="159.2" width="1.7" height="37.2" fill="#c2c6cb"/>
<rect x="448.4" y="159.2" width="2.1" height="37.2" fill="#e6e8eb"/>
<polyline points="446.7,159.2 446.7,196.4" fill="none" stroke="#757a82" stroke-width="0.55"/>
<polyline points="450.5,159.2 450.5,196.4" fill="none" stroke="#757a82" stroke-width="0.55"/>
<polyline points="448.4,159.2 448.4,196.4" fill="none" stroke="#a4a9b0" stroke-width="0.3"/>
<rect x="460.7" y="166.0" width="1.6" height="21.0" fill="#c2c6cb"/>
<rect x="462.3" y="166.0" width="2.0" height="21.0" fill="#e6e8eb"/>
<polyline points="460.7,166.0 460.7,187.0" fill="none" stroke="#757a82" stroke-width="0.55"/>
<polyline points="464.3,166.0 464.3,187.0" fill="none" stroke="#757a82" stroke-width="0.55"/>
<polyline points="462.3,166.0 462.3,187.0" fill="none" stroke="#a4a9b0" stroke-width="0.3"/>
<rect x="497.2" y="160.0" width="2.1" height="27.0" fill="#c2c6cb"/>
<rect x="499.3" y="160.0" width="2.5" height="27.0" fill="#e6e8eb"/>
<polyline points="497.2,160.0 497.2,187.0" fill="none" stroke="#757a82" stroke-width="0.55"/>
<polyline points="501.8,160.0 501.8,187.0" fill="none" stroke="#757a82" stroke-width="0.55"/>
<polyline points="499.3,160.0 499.3,187.0" fill="none" stroke="#a4a9b0" stroke-width="0.3"/>
<polygon points="446.7,181.0 475.5,194.0 475.5,204.6 446.7,196.4" fill="#dcdee1" stroke="#757a82" stroke-width="0.4" stroke-linejoin="round"/>
<polygon points="450.6,186.4 472.0,196.0 472.0,200.6 450.6,193.0" fill="#ffffff"/>
<polygon points="476.2,195.0 497.0,183.2 497.0,187.0 476.2,199.0" fill="#d0d3d7"/>
<rect x="474.0" y="174.6" width="1.7" height="30.0" fill="#c2c6cb"/>
<rect x="475.7" y="174.6" width="2.1" height="30.0" fill="#e6e8eb"/>
<polyline points="474.0,174.6 474.0,204.6" fill="none" stroke="#757a82" stroke-width="0.55"/>
<polyline points="477.8,174.6 477.8,204.6" fill="none" stroke="#757a82" stroke-width="0.55"/>
<polyline points="475.7,174.6 475.7,204.6" fill="none" stroke="#a4a9b0" stroke-width="0.3"/>
<polygon points="463.6,177.0 469.0,180.4 469.0,190.0 463.6,186.4" fill="#e9ebed" stroke="#757a82" stroke-width="0.3" stroke-linejoin="round"/>
<polygon points="478.6,198.0 495.0,203.2 515.4,217.0 515.4,222.0 495.0,208.2 478.6,203.0" fill="#2f86c8"/>
<polygon points="515.4,217.0 547.0,201.0 547.0,206.0 515.4,222.0" fill="#1f66a6"/>
<polygon points="487.0,199.0 511.0,186.0 543.0,201.4 517.0,215.0" fill="#30353c"/>
<polygon points="495.0,190.7 511.5,181.0 536.7,193.6 518.3,204.3" fill="#dcb878"/>
<polygon points="495.0,190.7 518.3,204.3 518.3,213.5 495.0,199.9" fill="#5a3c24"/>
<polygon points="518.3,204.3 536.7,193.6 536.7,202.8 518.3,213.5" fill="#c79a58"/>
<polyline points="503.4,185.8 527.6,198.8" fill="none" stroke="#c9a262" stroke-width="0.5"/>
<polyline points="506.8,197.6 524.0,187.4" fill="none" stroke="#c9a262" stroke-width="0.5"/>
<polyline points="499.0,188.2 522.6,201.6" fill="none" stroke="#f3ead6" stroke-width="0.9"/>
<polyline points="507.6,183.4 531.6,196.4" fill="none" stroke="#f3ead6" stroke-width="0.9"/>
<polyline points="527.4,199.0 527.4,208.2" fill="none" stroke="#a87c42" stroke-width="0.5"/>
<polyline points="518.3,208.6 536.7,198.0" fill="none" stroke="#a87c42" stroke-width="0.4"/>
<polyline points="495.0,195.0 518.3,208.6" fill="none" stroke="#3e2a18" stroke-width="0.4"/>
<polygon points="484.4,197.6 517.0,215.6 517.0,220.2 484.4,202.2" fill="#2f86c8"/>
<polygon points="517.0,215.6 543.4,201.6 543.4,206.2 517.0,220.2" fill="#1f66a6"/>
<polyline points="484.4,197.6 517.0,215.6 543.4,201.6" fill="none" stroke="#58aee6" stroke-width="0.5"/>
<rect x="499.8" y="213.4" width="2" height="2" fill="#ee7a20"/>
<rect x="499.9" y="213.0" width="3.0" height="9.4" fill="#2f86c8"/>
<rect x="499.2" y="222.0" width="4.4" height="1.6" fill="#5d626a"/>
<rect x="522.1" y="227.0" width="3.0" height="9.4" fill="#2f86c8"/>
<rect x="521.4" y="236.0" width="4.4" height="1.6" fill="#5d626a"/>
<polygon points="509.2,139.8 541.7,157.3 541.7,172.0 509.2,154.9" fill="#c6c9cd"/>
<polyline points="510.4,140.6 510.4,155.0" fill="none" stroke="#a0a4ab" stroke-width="0.45"/>
<polyline points="512.4,141.7 512.4,156.1" fill="none" stroke="#a0a4ab" stroke-width="0.45"/>
<polyline points="514.4,142.8 514.4,157.2" fill="none" stroke="#a0a4ab" stroke-width="0.45"/>
<polyline points="516.4,143.8 516.4,158.2" fill="none" stroke="#a0a4ab" stroke-width="0.45"/>
<polyline points="518.4,144.9 518.4,159.3" fill="none" stroke="#a0a4ab" stroke-width="0.45"/>
<polyline points="520.4,146.0 520.4,160.4" fill="none" stroke="#a0a4ab" stroke-width="0.45"/>
<polyline points="522.4,147.1 522.4,161.5" fill="none" stroke="#a0a4ab" stroke-width="0.45"/>
<polyline points="524.4,148.1 524.4,162.5" fill="none" stroke="#a0a4ab" stroke-width="0.45"/>
<polyline points="526.4,149.2 526.4,163.6" fill="none" stroke="#a0a4ab" stroke-width="0.45"/>
<polyline points="528.4,150.3 528.4,164.7" fill="none" stroke="#a0a4ab" stroke-width="0.45"/>
<polyline points="530.4,151.4 530.4,165.8" fill="none" stroke="#a0a4ab" stroke-width="0.45"/>
<polyline points="532.4,152.4 532.4,166.8" fill="none" stroke="#a0a4ab" stroke-width="0.45"/>
<polyline points="534.4,153.5 534.4,167.9" fill="none" stroke="#a0a4ab" stroke-width="0.45"/>
<polyline points="536.4,154.6 536.4,169.0" fill="none" stroke="#a0a4ab" stroke-width="0.45"/>
<polyline points="538.4,155.7 538.4,170.1" fill="none" stroke="#a0a4ab" stroke-width="0.45"/>
<polyline points="540.4,156.8 540.4,171.2" fill="none" stroke="#a0a4ab" stroke-width="0.45"/>
<polyline points="509.2,141.8 541.7,159.3" fill="none" stroke="#a9adb3" stroke-width="0.35"/>
<polyline points="509.2,144.3 541.7,161.8" fill="none" stroke="#a9adb3" stroke-width="0.35"/>
<polyline points="509.2,146.8 541.7,164.3" fill="none" stroke="#a9adb3" stroke-width="0.35"/>
<polyline points="509.2,149.3 541.7,166.8" fill="none" stroke="#a9adb3" stroke-width="0.35"/>
<polyline points="509.2,151.8 541.7,169.3" fill="none" stroke="#a9adb3" stroke-width="0.35"/>
<polyline points="509.2,154.3 541.7,171.8" fill="none" stroke="#a9adb3" stroke-width="0.35"/>
<polyline points="509.2,154.9 541.7,172.0" fill="none" stroke="#757a82" stroke-width="0.4"/>
<polygon points="547.6,187.6 588.4,166.6 588.4,168.6 547.6,189.6" fill="#e6e8eb"/>
<polygon points="547.6,189.6 588.4,168.6 588.4,170.6 547.6,191.6" fill="#a9aeb5"/>
<polyline points="547.6,187.6 588.4,166.6" fill="none" stroke="#757a82" stroke-width="0.55"/>
<polyline points="547.6,191.6 588.4,170.6" fill="none" stroke="#757a82" stroke-width="0.55"/>
<polyline points="547.6,189.6 588.4,168.6" fill="none" stroke="#a4a9b0" stroke-width="0.3"/>
<polygon points="547.6,198.6 588.4,178.4 588.4,180.4 547.6,200.6" fill="#e6e8eb"/>
<polygon points="547.6,200.6 588.4,180.4 588.4,182.4 547.6,202.6" fill="#a9aeb5"/>
<polyline points="547.6,198.6 588.4,178.4" fill="none" stroke="#757a82" stroke-width="0.55"/>
<polyline points="547.6,202.6 588.4,182.4" fill="none" stroke="#757a82" stroke-width="0.55"/>
<polyline points="547.6,200.6 588.4,180.4" fill="none" stroke="#a4a9b0" stroke-width="0.3"/>
<polygon points="547.6,213.6 588.4,193.0 588.4,195.0 547.6,215.6" fill="#e6e8eb"/>
<polygon points="547.6,215.6 588.4,195.0 588.4,197.0 547.6,217.6" fill="#a9aeb5"/>
<polyline points="547.6,213.6 588.4,193.0" fill="none" stroke="#757a82" stroke-width="0.55"/>
<polyline points="547.6,217.6 588.4,197.0" fill="none" stroke="#757a82" stroke-width="0.55"/>
<polyline points="547.6,215.6 588.4,195.0" fill="none" stroke="#a4a9b0" stroke-width="0.3"/>
<rect x="588.2" y="129.6" width="2.2" height="66.4" fill="#c2c6cb"/>
<rect x="590.4" y="129.6" width="2.6" height="66.4" fill="#e6e8eb"/>
<polyline points="588.2,129.6 588.2,196.0" fill="none" stroke="#757a82" stroke-width="0.55"/>
<polyline points="593.0,129.6 593.0,196.0" fill="none" stroke="#757a82" stroke-width="0.55"/>
<polyline points="590.4,129.6 590.4,196.0" fill="none" stroke="#a4a9b0" stroke-width="0.3"/>
<polygon points="509.0,134.4 541.9,152.0 541.9,154.1 509.0,136.5" fill="#e6e8eb"/>
<polygon points="509.0,136.5 541.9,154.1 541.9,156.2 509.0,138.6" fill="#a9aeb5"/>
<polyline points="509.0,134.4 541.9,152.0" fill="none" stroke="#757a82" stroke-width="0.55"/>
<polyline points="509.0,138.6 541.9,156.2" fill="none" stroke="#757a82" stroke-width="0.55"/>
<polyline points="509.0,136.5 541.9,154.1" fill="none" stroke="#a4a9b0" stroke-width="0.3"/>
<polygon points="546.6,154.6 590.4,128.6 590.4,130.7 546.6,156.7" fill="#e6e8eb"/>
<polygon points="546.6,156.7 590.4,130.7 590.4,132.8 546.6,158.8" fill="#a9aeb5"/>
<polyline points="546.6,154.6 590.4,128.6" fill="none" stroke="#757a82" stroke-width="0.55"/>
<polyline points="546.6,158.8 590.4,132.8" fill="none" stroke="#757a82" stroke-width="0.55"/>
<polyline points="546.6,156.7 590.4,130.7" fill="none" stroke="#a4a9b0" stroke-width="0.3"/>
<rect x="541.8" y="155.4" width="2.6" height="57.0" fill="#c2c6cb"/>
<rect x="544.4" y="155.4" width="3.2" height="57.0" fill="#e6e8eb"/>
<polyline points="541.8,155.4 541.8,212.4" fill="none" stroke="#757a82" stroke-width="0.55"/>
<polyline points="547.6,155.4 547.6,212.4" fill="none" stroke="#757a82" stroke-width="0.55"/>
<polyline points="544.4,155.4 544.4,212.4" fill="none" stroke="#a4a9b0" stroke-width="0.3"/>
<polygon points="504.6,133.8 507.0,132.2 509.6,133.6 507.0,135.2" fill="#e6e8eb" stroke="#757a82" stroke-width="0.3" stroke-linejoin="round"/>
<polygon points="541.8,155.0 545.0,153.0 547.6,154.6 544.8,156.6" fill="#e6e8eb" stroke="#757a82" stroke-width="0.3" stroke-linejoin="round"/>
<polygon points="588.2,128.8 590.6,127.2 593.0,128.8 590.8,130.4" fill="#e6e8eb" stroke="#757a82" stroke-width="0.3" stroke-linejoin="round"/>
<rect x="540.8" y="211.8" width="7.8" height="1.6" fill="#757a82"/>
<rect x="587.2" y="195.4" width="6.8" height="1.6" fill="#757a82"/>
<rect x="553.1" y="247.4" width="3.0" height="8.0" fill="#2f86c8"/>
<rect x="552.4" y="255.0" width="4.4" height="1.6" fill="#5d626a"/>
<rect x="583.3" y="264.0" width="3.0" height="8.0" fill="#2f86c8"/>
<rect x="582.6" y="271.6" width="4.4" height="1.6" fill="#5d626a"/>
<polygon points="516.4,219.6 586.2,260.4 608.6,252.0 538.8,211.2" fill="#e6e8ea"/>
<polyline points="518.2,220.7 540.6,212.3" fill="none" stroke="#9ba0a7" stroke-width="0.9"/>
<polyline points="521.9,222.8 544.3,214.4" fill="none" stroke="#9ba0a7" stroke-width="0.9"/>
<polyline points="525.6,225.0 548.0,216.6" fill="none" stroke="#9ba0a7" stroke-width="0.9"/>
<polyline points="529.3,227.1 551.7,218.7" fill="none" stroke="#9ba0a7" stroke-width="0.9"/>
<polyline points="532.9,229.3 555.3,220.9" fill="none" stroke="#9ba0a7" stroke-width="0.9"/>
<polyline points="536.6,231.4 559.0,223.0" fill="none" stroke="#9ba0a7" stroke-width="0.9"/>
<polyline points="540.3,233.6 562.7,225.2" fill="none" stroke="#9ba0a7" stroke-width="0.9"/>
<polyline points="544.0,235.7 566.4,227.3" fill="none" stroke="#9ba0a7" stroke-width="0.9"/>
<polyline points="547.6,237.9 570.0,229.5" fill="none" stroke="#9ba0a7" stroke-width="0.9"/>
<polyline points="551.3,240.0 573.7,231.6" fill="none" stroke="#9ba0a7" stroke-width="0.9"/>
<polyline points="555.0,242.1 577.4,233.7" fill="none" stroke="#9ba0a7" stroke-width="0.9"/>
<polyline points="558.6,244.3 581.0,235.9" fill="none" stroke="#9ba0a7" stroke-width="0.9"/>
<polyline points="562.3,246.4 584.7,238.0" fill="none" stroke="#9ba0a7" stroke-width="0.9"/>
<polyline points="566.0,248.6 588.4,240.2" fill="none" stroke="#9ba0a7" stroke-width="0.9"/>
<polyline points="569.7,250.7 592.1,242.3" fill="none" stroke="#9ba0a7" stroke-width="0.9"/>
<polyline points="573.3,252.9 595.7,244.5" fill="none" stroke="#9ba0a7" stroke-width="0.9"/>
<polyline points="577.0,255.0 599.4,246.6" fill="none" stroke="#9ba0a7" stroke-width="0.9"/>
<polyline points="580.7,257.2 603.1,248.8" fill="none" stroke="#9ba0a7" stroke-width="0.9"/>
<polyline points="584.4,259.3 606.8,250.9" fill="none" stroke="#9ba0a7" stroke-width="0.9"/>
<polyline points="538.8,211.2 608.6,252.0" fill="none" stroke="#5d626a" stroke-width="0.5"/>
<polygon points="515.4,217.6 516.4,219.6 586.2,260.4 586.2,265.0 515.4,222.2" fill="#2f86c8"/>
<polyline points="516.4,219.6 538.8,211.2" fill="none" stroke="#868b93" stroke-width="0.6"/>
<polygon points="560.0,242.7 582.7,258.0 582.7,260.0 560.0,244.7" fill="#5b3d24"/>
<polygon points="582.7,258.0 601.2,245.4 601.2,247.4 582.7,260.0" fill="#7a5634"/>
<polygon points="560.0,218.3 582.7,233.6 582.7,258.0 560.0,242.7" fill="#bf8b43"/>
<polygon points="582.7,233.6 601.2,221.0 601.2,245.4 582.7,258.0" fill="#d2a057"/>
<polygon points="560.0,218.3 578.5,205.7 601.2,221.0 582.7,233.6" fill="#dcb46e"/>
<polyline points="560.0,223.2 582.7,238.5 601.2,225.9" fill="none" stroke="#8f6630" stroke-width="0.6"/>
<polyline points="560.0,228.1 582.7,243.4 601.2,230.8" fill="none" stroke="#8f6630" stroke-width="0.6"/>
<polyline points="560.0,232.9 582.7,248.2 601.2,235.6" fill="none" stroke="#8f6630" stroke-width="0.6"/>
<polyline points="560.0,237.8 582.7,253.1 601.2,240.5" fill="none" stroke="#8f6630" stroke-width="0.6"/>
<polyline points="567.5,223.3 567.5,247.7" fill="none" stroke="#946a32" stroke-width="0.5"/>
<polyline points="588.8,229.4 588.8,253.8" fill="none" stroke="#a87c3c" stroke-width="0.5"/>
<polyline points="575.0,228.4 575.0,252.8" fill="none" stroke="#946a32" stroke-width="0.5"/>
<polyline points="594.9,225.3 594.9,249.7" fill="none" stroke="#a87c3c" stroke-width="0.5"/>
<polyline points="571.4,225.9 589.9,213.3" fill="none" stroke="#c9a05c" stroke-width="0.5"/>
<polyline points="569.2,212.0 592.0,227.3" fill="none" stroke="#c9a05c" stroke-width="0.5"/>
<polyline points="582.7,233.6 582.7,258.0" fill="none" stroke="#b3833f" stroke-width="0.5"/>
<rect x="632.3" y="195.0" width="8.7" height="64.0" fill="#dddfe2"/>
<path d="M632.3,196 Q632.3,192.6 636.6,192.6 Q641,192.6 641,196 Z" fill="#dddfe2" stroke="#8f949b" stroke-width="0.4"/>
<polyline points="632.3,195.6 632.3,259.0" fill="none" stroke="#868b93" stroke-width="0.5"/>
<polyline points="641.0,195.6 641.0,259.0" fill="none" stroke="#868b93" stroke-width="0.5"/>
<polyline points="636.0,197.0 636.0,258.0" fill="none" stroke="#a9adb3" stroke-width="0.7"/>
<polyline points="638.0,197.0 638.0,258.0" fill="none" stroke="#f4f5f6" stroke-width="0.8"/>
<polygon points="641.0,241.6 646.0,239.6 648.8,241.0 648.8,252.4 643.6,254.4 641.0,253.0" fill="#cdd0d4" stroke="#868b93" stroke-width="0.4" stroke-linejoin="round"/>
<polygon points="634.0,244.6 641.0,242.6 641.0,252.6 634.0,254.6" fill="#d6d8dc" stroke="#868b93" stroke-width="0.4" stroke-linejoin="round"/>
<path d="M631,247 L640.6,247 L640.6,262 Q636,268 631,264 Z" fill="#d3d6da" stroke="#9aa0a7" stroke-width="0.4"/>
<path d="M588,268.6 A24.3,12.2 0 0 0 636.6,268.6 L636.6,275.4 A24.3,12.2 0 0 1 588,275.4 Z" fill="#2f86c8"/>
<path d="M588,266.4 A24.3,12.2 0 0 0 636.6,266.4 L636.6,269.6 A24.3,12.2 0 0 1 588,269.6 Z" fill="#c6c9ce"/>
<ellipse cx="612.3" cy="266.2" rx="24.3" ry="12.2" fill="#eceef0" stroke="#a4a8ae" stroke-width="0.5"/>
<ellipse cx="612.3" cy="266" rx="21.6" ry="10.6" fill="none" stroke="#d2d5d9" stroke-width="0.6"/>
<rect x="601.2" y="282.4" width="2" height="2" fill="#ee7a20"/>
<polygon points="592.0,261.6 613.4,273.4 613.4,275.4 592.0,263.6" fill="#5b3d24"/>
<polygon points="613.4,273.4 631.8,262.8 631.8,264.8 613.4,275.4" fill="#7a5634"/>
<polygon points="592.0,239.2 613.4,251.0 613.4,273.4 592.0,261.6" fill="#bf8b43"/>
<polygon points="613.4,251.0 631.8,240.4 631.8,262.8 613.4,273.4" fill="#d2a057"/>
<polygon points="592.0,239.2 611.2,226.8 631.8,240.4 613.4,251.0" fill="#dcb46e"/>
<polyline points="592.0,243.7 613.4,255.5 631.8,244.9" fill="none" stroke="#8f6630" stroke-width="0.6"/>
<polyline points="592.0,248.2 613.4,260.0 631.8,249.4" fill="none" stroke="#8f6630" stroke-width="0.6"/>
<polyline points="592.0,252.6 613.4,264.4 631.8,253.8" fill="none" stroke="#8f6630" stroke-width="0.6"/>
<polyline points="592.0,257.1 613.4,268.9 631.8,258.3" fill="none" stroke="#8f6630" stroke-width="0.6"/>
<polyline points="599.1,243.1 599.1,265.5" fill="none" stroke="#946a32" stroke-width="0.5"/>
<polyline points="619.5,247.5 619.5,269.9" fill="none" stroke="#a87c3c" stroke-width="0.5"/>
<polyline points="606.1,247.0 606.1,269.4" fill="none" stroke="#946a32" stroke-width="0.5"/>
<polyline points="625.5,244.0 625.5,266.4" fill="none" stroke="#a87c3c" stroke-width="0.5"/>
<polyline points="602.7,245.1 621.5,233.6" fill="none" stroke="#c9a05c" stroke-width="0.5"/>
<polyline points="601.6,233.0 622.6,245.7" fill="none" stroke="#c9a05c" stroke-width="0.5"/>
<polyline points="613.4,251.0 613.4,273.4" fill="none" stroke="#b3833f" stroke-width="0.5"/>
</g>
<g id="watermark" transform="matrix(1,-0.472,0,1,162.4,276.8)" fill="none" stroke-linejoin="miter" stroke-linecap="butt">
<path d="M-11.1,-24.5 L1.9,0.0 L13.1,-24.5 L21.6,0.0 L31.6,-24.5 L41.6,0.0 L50.6,-24.5 L60.6,0.0 L69.6,-24.5 L78.1,0.0 L84.6,-24.5 M86.6,-0.0 L86.6,-1.5 M89.1,-25.5 L111.1,0.0 M89.1,0.0 L111.1,-25.5 M116.6,0.0 L116.6,-25.5 M122.1,0.0 L122.1,-25.5 L139.6,0.0 L139.6,-25.5 M161.6,-20.4 A10.8,12.8 0 1 0 163.1,-11.7 L152.8,-11.7 M166.6,0.0 L166.6,-25.5 L180.1,-25.5 M166.6,-13.3 L178.1,-13.3 M197.1,0.0 L184.1,0.0 L184.1,-25.5 L197.1,-25.5 M184.1,-13.3 L195.8,-13.3 M205.1,0.0 L205.1,-25.5 M212.1,0.0 L212.1,-25.5 L220.6,-25.5 A8.5,6.9 0 0 1 220.6,-11.7 L212.1,-11.7 M224.1,0.0 L234.1,-25.5 L244.1,0.0 M227.5,-8.4 L240.7,-8.4 M265.7,-20.4 A10.0,12.8 0 1 0 265.7,-5.1 M268.6,0.0 L268.6,-25.5 M287.6,-25.5 L268.6,-10.2 M274.7,-15.3 L287.6,0.0 M291.6,-0.0 L291.6,-1.5 M311.8,-20.4 A9.0,12.8 0 1 0 311.8,-5.1 M312.1,-12.8 A10.5,12.8 0 1 1 333.1,-12.8 A10.5,12.8 0 1 1 312.1,-12.8 M334.6,0.0 L334.6,-25.5 L346.6,0.0 L358.6,-25.5 L358.6,0.0" transform="translate(2.6,2.4)" stroke="#5a5a5a" stroke-width="4.0" opacity="0.46" filter="url(#wmsh)"/>
<path d="M-11.1,-24.5 L1.9,0.0 L13.1,-24.5 L21.6,0.0 L31.6,-24.5 L41.6,0.0 L50.6,-24.5 L60.6,0.0 L69.6,-24.5 L78.1,0.0 L84.6,-24.5 M86.6,-0.0 L86.6,-1.5 M89.1,-25.5 L111.1,0.0 M89.1,0.0 L111.1,-25.5 M116.6,0.0 L116.6,-25.5 M122.1,0.0 L122.1,-25.5 L139.6,0.0 L139.6,-25.5 M161.6,-20.4 A10.8,12.8 0 1 0 163.1,-11.7 L152.8,-11.7 M166.6,0.0 L166.6,-25.5 L180.1,-25.5 M166.6,-13.3 L178.1,-13.3 M197.1,0.0 L184.1,0.0 L184.1,-25.5 L197.1,-25.5 M184.1,-13.3 L195.8,-13.3 M205.1,0.0 L205.1,-25.5 M212.1,0.0 L212.1,-25.5 L220.6,-25.5 A8.5,6.9 0 0 1 220.6,-11.7 L212.1,-11.7 M224.1,0.0 L234.1,-25.5 L244.1,0.0 M227.5,-8.4 L240.7,-8.4 M265.7,-20.4 A10.0,12.8 0 1 0 265.7,-5.1 M268.6,0.0 L268.6,-25.5 M287.6,-25.5 L268.6,-10.2 M274.7,-15.3 L287.6,0.0 M291.6,-0.0 L291.6,-1.5 M311.8,-20.4 A9.0,12.8 0 1 0 311.8,-5.1 M312.1,-12.8 A10.5,12.8 0 1 1 333.1,-12.8 A10.5,12.8 0 1 1 312.1,-12.8 M334.6,0.0 L334.6,-25.5 L346.6,0.0 L358.6,-25.5 L358.6,0.0" stroke="#ffffff" stroke-width="4.2" opacity="0.88"/>
</g>
</svg>
</body></html>
